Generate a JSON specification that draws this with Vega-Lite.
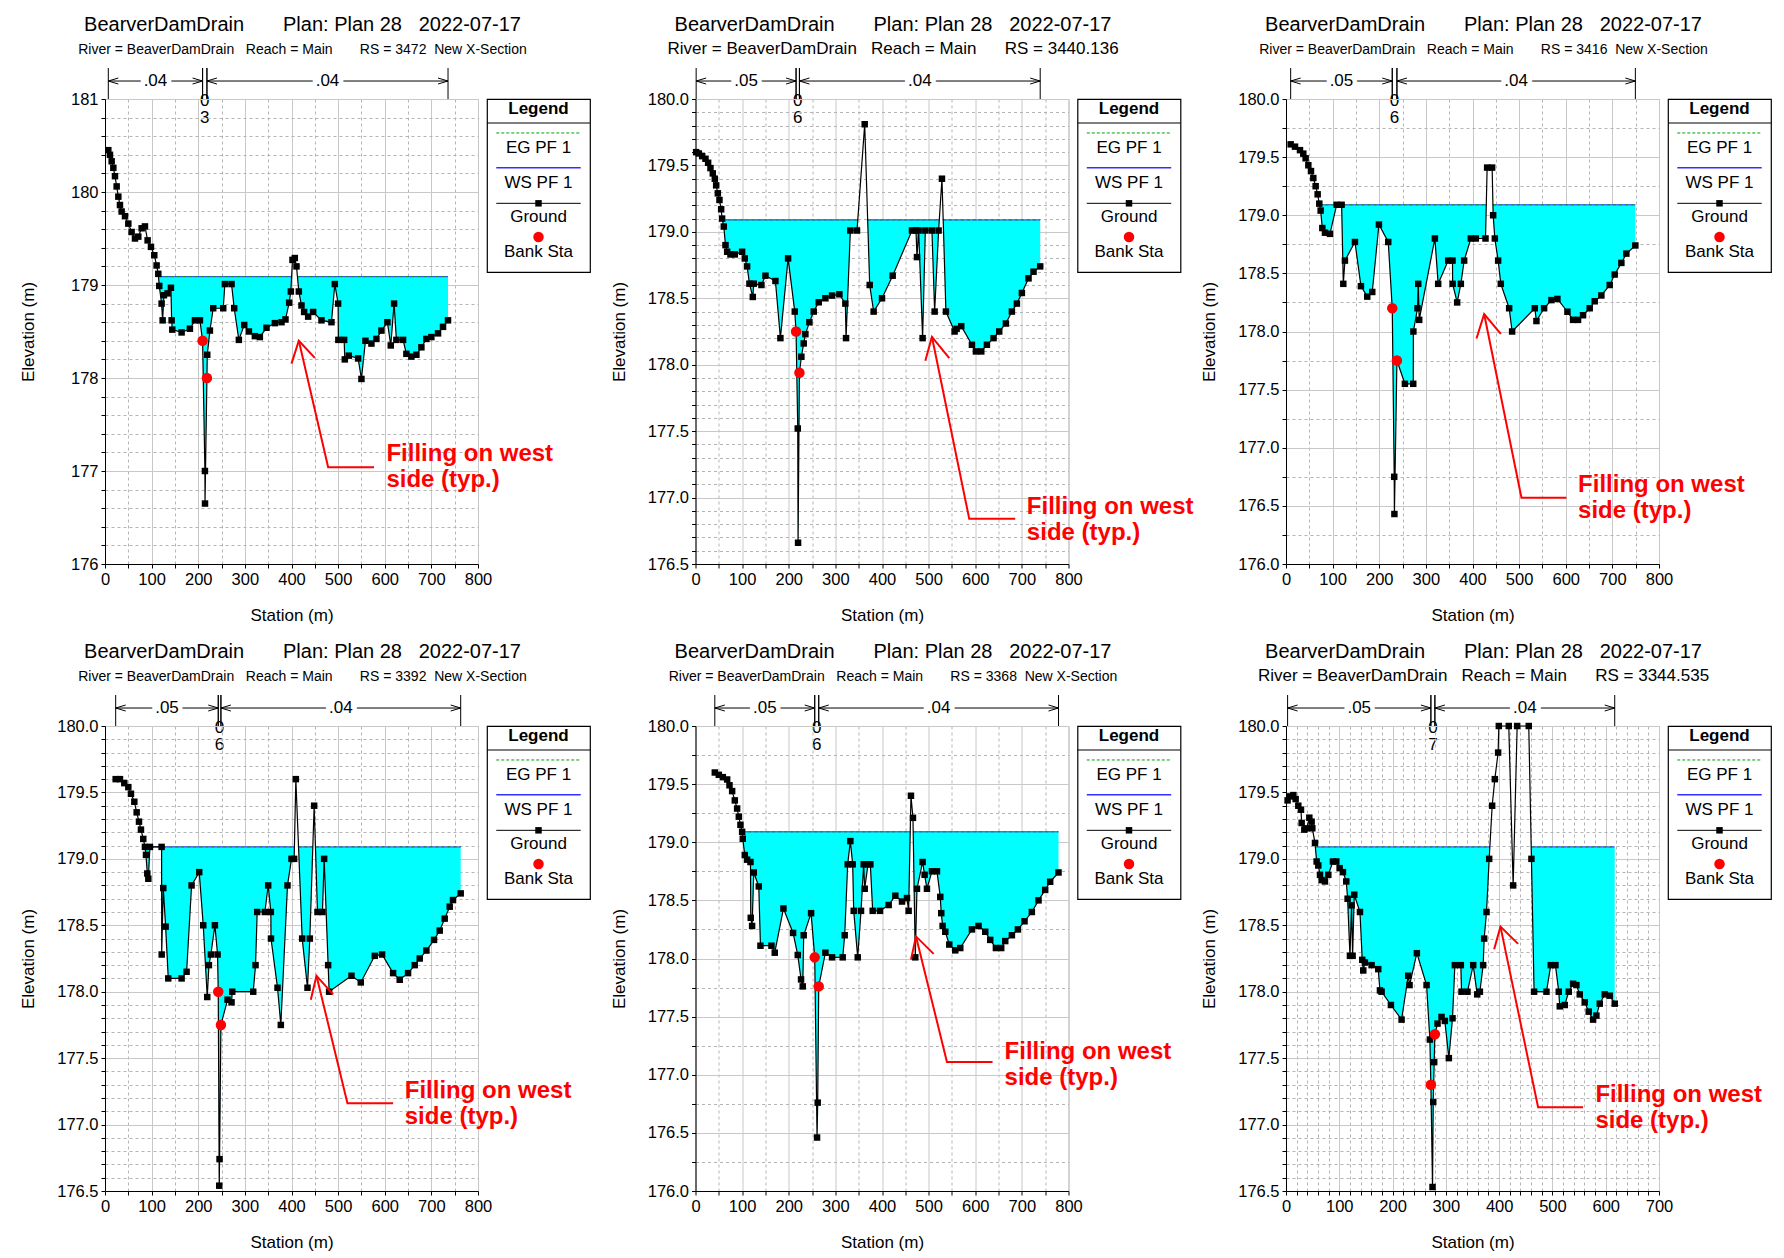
{
"$schema": "https://vega.github.io/schema/vega-lite/v6.json",
"background": "white",
"padding": {"left": 18, "top": 14, "right": 0, "bottom": 0},
"config": {
 "font": "Liberation Sans",
 "title": {"fontSize": 20, "fontWeight": "normal", "subtitleFontSize": 14, "subtitlePadding": 8, "offset": 11, "dx": 11, "frame": "group", "anchor": "middle", "color": "black", "subtitleColor": "black"},
 "axis": {"grid": true, "domainColor": "black", "tickColor": "black", "labelColor": "black", "titleColor": "black", "labelFontSize": 16.5, "titleFontSize": 17, "titleFontWeight": "normal", "tickSize": 4, "labelPadding": 3, "labelOverlap": false, "labelFlush": false, "labelBound": false, "gridWidth": 1},
 "axisX": {"titlePadding": 20},
 "axisY": {"titlePadding": 19}
},
"datasets": {
 "legend": [{"item": "EG PF 1"}, {"item": "WS PF 1"}, {"item": "Ground"}, {"item": "Bank Sta"}],
 "rough": [
  {"p":1,"k":"L","a":7.1,"z":209.3,"n":".04"},{"p":1,"k":"C","a":209.3,"z":218.6,"n":"0\n3"},{"p":1,"k":"R","a":218.6,"z":735.7,"n":".04"},
  {"p":2,"k":"L","a":1.4,"z":215.7,"n":".05"},{"p":2,"k":"C","a":215.7,"z":222.9,"n":"0\n6"},{"p":2,"k":"R","a":222.9,"z":739.3,"n":".04"},
  {"p":3,"k":"L","a":10,"z":227.9,"n":".05"},{"p":3,"k":"C","a":227.9,"z":237.9,"n":"0\n6"},{"p":3,"k":"R","a":237.9,"z":749.3,"n":".04"},
  {"p":4,"k":"L","a":22.9,"z":242.9,"n":".05"},{"p":4,"k":"C","a":242.9,"z":248.6,"n":"0\n6"},{"p":4,"k":"R","a":248.6,"z":762.9,"n":".04"},
  {"p":5,"k":"L","a":41.4,"z":255.7,"n":".05"},{"p":5,"k":"C","a":255.7,"z":264.3,"n":"0\n6"},{"p":5,"k":"R","a":264.3,"z":778.6,"n":".04"},
  {"p":6,"k":"L","a":3,"z":271.9,"n":".05"},{"p":6,"k":"C","a":271.9,"z":279.4,"n":"0\n7"},{"p":6,"k":"R","a":279.4,"z":616.9,"n":".04"}
 ],
 "ws": [
  {"p":1,"a":114.8,"z":400.2,"w":179.09},{"p":1,"a":412.7,"z":735.7,"w":179.09},
  {"p":2,"a":57.7,"z":348.1,"w":179.09},{"p":2,"a":369.3,"z":522.9,"w":179.09},{"p":2,"a":531.2,"z":739.3,"w":179.09},
  {"p":3,"a":71.9,"z":429.6,"w":179.09},{"p":3,"a":443.8,"z":749.3,"w":179.09},
  {"p":4,"a":85.7,"z":406.2,"w":179.09},{"p":4,"a":415.1,"z":445.7,"w":179.09},{"p":4,"a":451.4,"z":762.9,"w":179.09},
  {"p":5,"a":100,"z":460.5,"w":179.09},{"p":5,"a":466.9,"z":778.6,"w":179.09},
  {"p":6,"a":55.1,"z":382.6,"w":179.09},{"p":6,"a":460.2,"z":616.9,"w":179.09}
 ],
 "banks": [
  {"p":1,"s":209.3,"e":178.40},{"p":1,"s":218.6,"e":178.00},
  {"p":2,"s":215.7,"e":178.25},{"p":2,"s":222.9,"e":177.94},
  {"p":3,"s":227.9,"e":178.20},{"p":3,"s":237.9,"e":177.75},
  {"p":4,"s":242.9,"e":178.00},{"p":4,"s":248.6,"e":177.75},
  {"p":5,"s":255.7,"e":178.01},{"p":5,"s":264.3,"e":177.76},
  {"p":6,"s":271.9,"e":177.30},{"p":6,"s":279.4,"e":177.68}
 ],
 "arrow": [
  {"p":1,"g":"stem","s":577,"e":177.04},{"p":1,"g":"stem","s":478.6,"e":177.04},{"p":1,"g":"stem","s":415.7,"e":178.40},
  {"p":1,"g":"head","s":400,"e":178.155},{"p":1,"g":"head","s":415.7,"e":178.40},{"p":1,"g":"head","s":450,"e":178.216},
  {"p":2,"g":"stem","s":685.7,"e":176.84},{"p":2,"g":"stem","s":587.1,"e":176.84},{"p":2,"g":"stem","s":507.1,"e":178.21},
  {"p":2,"g":"head","s":492.9,"e":178.03},{"p":2,"g":"head","s":507.1,"e":178.21},{"p":2,"g":"head","s":544.3,"e":178.05},
  {"p":3,"g":"stem","s":601.4,"e":176.57},{"p":3,"g":"stem","s":505,"e":176.57},{"p":3,"g":"stem","s":425,"e":178.15},
  {"p":3,"g":"head","s":408.6,"e":177.94},{"p":3,"g":"head","s":425,"e":178.15},{"p":3,"g":"head","s":460.7,"e":177.98},
  {"p":4,"g":"stem","s":617.9,"e":177.16},{"p":4,"g":"stem","s":520,"e":177.16},{"p":4,"g":"stem","s":453.6,"e":178.12},
  {"p":4,"g":"head","s":441.4,"e":177.94},{"p":4,"g":"head","s":453.6,"e":178.12},{"p":4,"g":"head","s":489.3,"e":177.98},
  {"p":5,"g":"stem","s":637.1,"e":177.11},{"p":5,"g":"stem","s":539.3,"e":177.11},{"p":5,"g":"stem","s":472.9,"e":178.19},
  {"p":5,"g":"head","s":462.1,"e":177.99},{"p":5,"g":"head","s":472.9,"e":178.19},{"p":5,"g":"head","s":510.7,"e":178.04},
  {"p":6,"g":"stem","s":557.5,"e":177.13},{"p":6,"g":"stem","s":473.1,"e":177.13},{"p":6,"g":"stem","s":402.5,"e":178.49},
  {"p":6,"g":"head","s":390.6,"e":178.32},{"p":6,"g":"head","s":402.5,"e":178.49},{"p":6,"g":"head","s":435.6,"e":178.36}
 ],
 "note": [
  {"p":1,"s":603.6,"e":177.31,"t":"Filling on west\nside (typ.)"},
  {"p":2,"s":710.7,"e":177.02,"t":"Filling on west\nside (typ.)"},
  {"p":3,"s":626.4,"e":176.78,"t":"Filling on west\nside (typ.)"},
  {"p":4,"s":642.9,"e":177.34,"t":"Filling on west\nside (typ.)"},
  {"p":5,"s":662.9,"e":177.30,"t":"Filling on west\nside (typ.)"},
  {"p":6,"s":580.6,"e":177.31,"t":"Filling on west\nside (typ.)"}
 ],
 "ground": [
  {"p":1,"s":7.1,"e":180.45},{"p":1,"s":10.7,"e":180.40},{"p":1,"s":14.3,"e":180.33},{"p":1,"s":17.9,"e":180.26},{"p":1,"s":21.4,"e":180.17},{"p":1,"s":25,"e":180.06},{"p":1,"s":28.6,"e":179.95},{"p":1,"s":32.1,"e":179.86},{"p":1,"s":35.7,"e":179.79},{"p":1,"s":42.9,"e":179.74},{"p":1,"s":50,"e":179.66},{"p":1,"s":57.1,"e":179.57},{"p":1,"s":64.3,"e":179.50},{"p":1,"s":71.4,"e":179.52},{"p":1,"s":78.6,"e":179.61},{"p":1,"s":85.7,"e":179.63},{"p":1,"s":91.4,"e":179.48},{"p":1,"s":98.6,"e":179.41},{"p":1,"s":105.7,"e":179.32},{"p":1,"s":110.7,"e":179.21},{"p":1,"s":114.3,"e":179.12},{"p":1,"s":116.4,"e":178.99},{"p":1,"s":121.4,"e":178.80},{"p":1,"s":123.6,"e":178.62},{"p":1,"s":126.4,"e":178.89},{"p":1,"s":134.3,"e":178.91},{"p":1,"s":141.4,"e":178.97},{"p":1,"s":142.9,"e":178.62},{"p":1,"s":144.3,"e":178.52},{"p":1,"s":164.3,"e":178.49},{"p":1,"s":182.1,"e":178.53},{"p":1,"s":192.9,"e":178.62},{"p":1,"s":203.6,"e":178.62},{"p":1,"s":209.3,"e":178.40},{"p":1,"s":214.3,"e":177.00},{"p":1,"s":214.5,"e":176.65},{"p":1,"s":218.6,"e":178.00},{"p":1,"s":219.3,"e":178.25},{"p":1,"s":225,"e":178.51},{"p":1,"s":232.1,"e":178.75},{"p":1,"s":253.6,"e":178.75},{"p":1,"s":257.1,"e":179.01},{"p":1,"s":271.4,"e":179.01},{"p":1,"s":277.1,"e":178.75},{"p":1,"s":287.1,"e":178.41},{"p":1,"s":298.6,"e":178.57},{"p":1,"s":308.6,"e":178.50},{"p":1,"s":321.4,"e":178.45},{"p":1,"s":332.1,"e":178.44},{"p":1,"s":346.4,"e":178.54},{"p":1,"s":364.3,"e":178.59},{"p":1,"s":378.6,"e":178.60},{"p":1,"s":387.1,"e":178.63},{"p":1,"s":395,"e":178.81},{"p":1,"s":398.6,"e":178.93},{"p":1,"s":402.1,"e":179.27},{"p":1,"s":407.1,"e":179.29},{"p":1,"s":410.7,"e":179.20},{"p":1,"s":415.7,"e":178.93},{"p":1,"s":421.4,"e":178.78},{"p":1,"s":427.1,"e":178.71},{"p":1,"s":435.7,"e":178.66},{"p":1,"s":446.4,"e":178.71},{"p":1,"s":464.3,"e":178.62},{"p":1,"s":485.7,"e":178.60},{"p":1,"s":492.9,"e":179.01},{"p":1,"s":500,"e":178.80},{"p":1,"s":500.5,"e":178.41},{"p":1,"s":512.9,"e":178.41},{"p":1,"s":514.3,"e":178.20},{"p":1,"s":522.9,"e":178.24},{"p":1,"s":542.9,"e":178.21},{"p":1,"s":550,"e":177.99},{"p":1,"s":558.6,"e":178.40},{"p":1,"s":571.4,"e":178.37},{"p":1,"s":582.1,"e":178.42},{"p":1,"s":592.9,"e":178.51},{"p":1,"s":605.7,"e":178.60},{"p":1,"s":612.9,"e":178.35},{"p":1,"s":620,"e":178.80},{"p":1,"s":625,"e":178.41},{"p":1,"s":639.3,"e":178.41},{"p":1,"s":646.4,"e":178.26},{"p":1,"s":657.1,"e":178.23},{"p":1,"s":667.9,"e":178.25},{"p":1,"s":678.6,"e":178.33},{"p":1,"s":689.3,"e":178.42},{"p":1,"s":700,"e":178.44},{"p":1,"s":714.3,"e":178.48},{"p":1,"s":725,"e":178.55},{"p":1,"s":735.7,"e":178.62},
  {"p":2,"s":1.4,"e":179.60},{"p":2,"s":7.1,"e":179.59},{"p":2,"s":14.3,"e":179.57},{"p":2,"s":21.4,"e":179.55},{"p":2,"s":27.1,"e":179.52},{"p":2,"s":32.1,"e":179.48},{"p":2,"s":37.1,"e":179.44},{"p":2,"s":41.4,"e":179.40},{"p":2,"s":44.3,"e":179.35},{"p":2,"s":47.9,"e":179.29},{"p":2,"s":51.4,"e":179.24},{"p":2,"s":55,"e":179.17},{"p":2,"s":57.1,"e":179.10},{"p":2,"s":60.7,"e":179.04},{"p":2,"s":64.3,"e":178.90},{"p":2,"s":67.9,"e":178.85},{"p":2,"s":75,"e":178.83},{"p":2,"s":84.3,"e":178.83},{"p":2,"s":100,"e":178.85},{"p":2,"s":105.7,"e":178.80},{"p":2,"s":110.7,"e":178.74},{"p":2,"s":115.7,"e":178.61},{"p":2,"s":122.9,"e":178.51},{"p":2,"s":125,"e":178.61},{"p":2,"s":141.4,"e":178.60},{"p":2,"s":150,"e":178.67},{"p":2,"s":171.4,"e":178.63},{"p":2,"s":182.1,"e":178.20},{"p":2,"s":198.6,"e":178.80},{"p":2,"s":212.9,"e":178.40},{"p":2,"s":215.7,"e":178.25},{"p":2,"s":219.3,"e":177.52},{"p":2,"s":220,"e":176.66},{"p":2,"s":222.9,"e":177.94},{"p":2,"s":227.1,"e":178.06},{"p":2,"s":232.1,"e":178.16},{"p":2,"s":235.7,"e":178.23},{"p":2,"s":244.3,"e":178.32},{"p":2,"s":253.6,"e":178.40},{"p":2,"s":264.3,"e":178.47},{"p":2,"s":278.6,"e":178.50},{"p":2,"s":292.9,"e":178.52},{"p":2,"s":308.6,"e":178.53},{"p":2,"s":321.4,"e":178.46},{"p":2,"s":322.9,"e":178.20},{"p":2,"s":332.1,"e":179.01},{"p":2,"s":346.4,"e":179.01},{"p":2,"s":362.9,"e":179.81},{"p":2,"s":373.6,"e":178.60},{"p":2,"s":382.1,"e":178.40},{"p":2,"s":400,"e":178.50},{"p":2,"s":422.9,"e":178.67},{"p":2,"s":464.3,"e":179.01},{"p":2,"s":472.9,"e":179.01},{"p":2,"s":475,"e":178.81},{"p":2,"s":478.6,"e":179.01},{"p":2,"s":487.1,"e":178.20},{"p":2,"s":492.9,"e":179.01},{"p":2,"s":507.1,"e":179.01},{"p":2,"s":512.9,"e":178.40},{"p":2,"s":521.4,"e":179.01},{"p":2,"s":528.6,"e":179.40},{"p":2,"s":537.1,"e":178.40},{"p":2,"s":555.7,"e":178.25},{"p":2,"s":560,"e":178.27},{"p":2,"s":570,"e":178.29},{"p":2,"s":592.9,"e":178.15},{"p":2,"s":601.4,"e":178.10},{"p":2,"s":612.9,"e":178.10},{"p":2,"s":625,"e":178.15},{"p":2,"s":639.3,"e":178.20},{"p":2,"s":651.4,"e":178.25},{"p":2,"s":665.7,"e":178.31},{"p":2,"s":678.6,"e":178.40},{"p":2,"s":689.3,"e":178.46},{"p":2,"s":700,"e":178.54},{"p":2,"s":714.3,"e":178.65},{"p":2,"s":725,"e":178.70},{"p":2,"s":739.3,"e":178.74},
  {"p":3,"s":10,"e":179.61},{"p":3,"s":19.3,"e":179.59},{"p":3,"s":30,"e":179.56},{"p":3,"s":37.1,"e":179.53},{"p":3,"s":42.1,"e":179.49},{"p":3,"s":47.9,"e":179.43},{"p":3,"s":53.6,"e":179.38},{"p":3,"s":58.6,"e":179.32},{"p":3,"s":63.6,"e":179.25},{"p":3,"s":67.9,"e":179.18},{"p":3,"s":71.4,"e":179.10},{"p":3,"s":74.3,"e":179.04},{"p":3,"s":77.9,"e":178.89},{"p":3,"s":83.6,"e":178.85},{"p":3,"s":94.3,"e":178.84},{"p":3,"s":108.6,"e":179.09},{"p":3,"s":119.3,"e":179.09},{"p":3,"s":122.9,"e":178.41},{"p":3,"s":126.4,"e":178.61},{"p":3,"s":147.9,"e":178.77},{"p":3,"s":160.7,"e":178.39},{"p":3,"s":174.3,"e":178.30},{"p":3,"s":185,"e":178.34},{"p":3,"s":199.3,"e":178.92},{"p":3,"s":219.3,"e":178.77},{"p":3,"s":227.9,"e":178.20},{"p":3,"s":232.1,"e":176.75},{"p":3,"s":232.5,"e":176.43},{"p":3,"s":237.9,"e":177.75},{"p":3,"s":255,"e":177.55},{"p":3,"s":272.9,"e":177.55},{"p":3,"s":273.2,"e":178.00},{"p":3,"s":282.1,"e":178.20},{"p":3,"s":283.6,"e":178.41},{"p":3,"s":285.7,"e":178.10},{"p":3,"s":319.3,"e":178.80},{"p":3,"s":326.4,"e":178.41},{"p":3,"s":347.9,"e":178.61},{"p":3,"s":357.1,"e":178.61},{"p":3,"s":357.4,"e":178.41},{"p":3,"s":367.1,"e":178.25},{"p":3,"s":375,"e":178.41},{"p":3,"s":382.1,"e":178.61},{"p":3,"s":396.4,"e":178.80},{"p":3,"s":407.1,"e":178.80},{"p":3,"s":427.9,"e":178.80},{"p":3,"s":431.4,"e":179.41},{"p":3,"s":442.1,"e":179.41},{"p":3,"s":444.3,"e":179.00},{"p":3,"s":447.9,"e":178.80},{"p":3,"s":455,"e":178.61},{"p":3,"s":460.7,"e":178.41},{"p":3,"s":478.6,"e":178.20},{"p":3,"s":485,"e":178.00},{"p":3,"s":533.6,"e":178.20},{"p":3,"s":537.1,"e":178.09},{"p":3,"s":553.6,"e":178.20},{"p":3,"s":569.3,"e":178.27},{"p":3,"s":582.1,"e":178.28},{"p":3,"s":603.6,"e":178.17},{"p":3,"s":615.7,"e":178.10},{"p":3,"s":626.4,"e":178.10},{"p":3,"s":637.1,"e":178.14},{"p":3,"s":651.4,"e":178.20},{"p":3,"s":662.1,"e":178.26},{"p":3,"s":676.4,"e":178.31},{"p":3,"s":694.3,"e":178.40},{"p":3,"s":705,"e":178.49},{"p":3,"s":719.3,"e":178.59},{"p":3,"s":730,"e":178.67},{"p":3,"s":749.3,"e":178.74},
  {"p":4,"s":22.9,"e":179.60},{"p":4,"s":32.1,"e":179.60},{"p":4,"s":41.4,"e":179.57},{"p":4,"s":50,"e":179.54},{"p":4,"s":55.7,"e":179.49},{"p":4,"s":62.9,"e":179.43},{"p":4,"s":67.9,"e":179.35},{"p":4,"s":72.9,"e":179.28},{"p":4,"s":77.1,"e":179.22},{"p":4,"s":82.1,"e":179.15},{"p":4,"s":85.7,"e":179.09},{"p":4,"s":87.9,"e":179.03},{"p":4,"s":90.7,"e":178.89},{"p":4,"s":92.9,"e":178.85},{"p":4,"s":96.4,"e":179.09},{"p":4,"s":121.4,"e":179.09},{"p":4,"s":121.6,"e":178.28},{"p":4,"s":125,"e":178.78},{"p":4,"s":130,"e":178.49},{"p":4,"s":135.7,"e":178.10},{"p":4,"s":164.3,"e":178.10},{"p":4,"s":175,"e":178.15},{"p":4,"s":185.7,"e":178.80},{"p":4,"s":202.1,"e":178.90},{"p":4,"s":210.7,"e":178.50},{"p":4,"s":219.3,"e":177.96},{"p":4,"s":222.9,"e":178.20},{"p":4,"s":227.1,"e":178.28},{"p":4,"s":235.7,"e":178.50},{"p":4,"s":241.4,"e":178.28},{"p":4,"s":242.9,"e":178.00},{"p":4,"s":245,"e":176.54},{"p":4,"s":245.7,"e":176.74},{"p":4,"s":248.6,"e":177.75},{"p":4,"s":262.9,"e":177.94},{"p":4,"s":271.4,"e":177.92},{"p":4,"s":272.9,"e":178.00},{"p":4,"s":317.9,"e":178.00},{"p":4,"s":322.9,"e":178.20},{"p":4,"s":326.4,"e":178.60},{"p":4,"s":342.9,"e":178.60},{"p":4,"s":350,"e":178.80},{"p":4,"s":355.7,"e":178.60},{"p":4,"s":356,"e":178.40},{"p":4,"s":370,"e":178.03},{"p":4,"s":377.1,"e":177.75},{"p":4,"s":391.4,"e":178.80},{"p":4,"s":400,"e":179.00},{"p":4,"s":405.7,"e":179.00},{"p":4,"s":409.3,"e":179.60},{"p":4,"s":422.9,"e":178.40},{"p":4,"s":434.3,"e":178.03},{"p":4,"s":439.3,"e":178.40},{"p":4,"s":448.6,"e":179.40},{"p":4,"s":455.7,"e":178.60},{"p":4,"s":466.4,"e":178.60},{"p":4,"s":470,"e":179.00},{"p":4,"s":478.6,"e":178.20},{"p":4,"s":480.7,"e":178.00},{"p":4,"s":528.6,"e":178.12},{"p":4,"s":548.6,"e":178.07},{"p":4,"s":578.6,"e":178.27},{"p":4,"s":594.3,"e":178.28},{"p":4,"s":617.9,"e":178.14},{"p":4,"s":632.1,"e":178.09},{"p":4,"s":650,"e":178.14},{"p":4,"s":664.3,"e":178.20},{"p":4,"s":675,"e":178.25},{"p":4,"s":689.3,"e":178.31},{"p":4,"s":705.7,"e":178.39},{"p":4,"s":717.9,"e":178.46},{"p":4,"s":728.6,"e":178.55},{"p":4,"s":739.3,"e":178.64},{"p":4,"s":746.4,"e":178.69},{"p":4,"s":762.9,"e":178.74},
  {"p":5,"s":41.4,"e":179.60},{"p":5,"s":50,"e":179.58},{"p":5,"s":58.6,"e":179.56},{"p":5,"s":67.9,"e":179.54},{"p":5,"s":72.9,"e":179.49},{"p":5,"s":78.6,"e":179.44},{"p":5,"s":84.3,"e":179.36},{"p":5,"s":89.3,"e":179.29},{"p":5,"s":92.9,"e":179.22},{"p":5,"s":96.4,"e":179.15},{"p":5,"s":100,"e":179.09},{"p":5,"s":101.4,"e":179.03},{"p":5,"s":105.7,"e":178.89},{"p":5,"s":110.7,"e":178.85},{"p":5,"s":117.9,"e":178.83},{"p":5,"s":118.5,"e":178.35},{"p":5,"s":121.4,"e":178.28},{"p":5,"s":125,"e":178.74},{"p":5,"s":135.7,"e":178.62},{"p":5,"s":139.3,"e":178.11},{"p":5,"s":162.9,"e":178.11},{"p":5,"s":170,"e":178.05},{"p":5,"s":188.6,"e":178.43},{"p":5,"s":209.3,"e":178.22},{"p":5,"s":219.3,"e":178.03},{"p":5,"s":226.4,"e":177.82},{"p":5,"s":230,"e":177.76},{"p":5,"s":232.1,"e":178.20},{"p":5,"s":247.9,"e":178.39},{"p":5,"s":255.7,"e":178.01},{"p":5,"s":260.7,"e":176.46},{"p":5,"s":262.1,"e":176.76},{"p":5,"s":264.3,"e":177.76},{"p":5,"s":278.6,"e":178.05},{"p":5,"s":292.9,"e":178.01},{"p":5,"s":315.7,"e":178.01},{"p":5,"s":320,"e":178.20},{"p":5,"s":326.4,"e":178.81},{"p":5,"s":332.1,"e":179.01},{"p":5,"s":337.1,"e":178.81},{"p":5,"s":339.3,"e":178.41},{"p":5,"s":347.9,"e":178.01},{"p":5,"s":355,"e":178.41},{"p":5,"s":360.7,"e":178.81},{"p":5,"s":362.9,"e":178.60},{"p":5,"s":370,"e":178.81},{"p":5,"s":375,"e":178.81},{"p":5,"s":380,"e":178.41},{"p":5,"s":395.7,"e":178.41},{"p":5,"s":414.3,"e":178.46},{"p":5,"s":428.6,"e":178.54},{"p":5,"s":442.9,"e":178.49},{"p":5,"s":453.6,"e":178.52},{"p":5,"s":457.1,"e":178.41},{"p":5,"s":462.1,"e":179.40},{"p":5,"s":466.4,"e":179.21},{"p":5,"s":471.4,"e":178.01},{"p":5,"s":475,"e":178.60},{"p":5,"s":487.1,"e":178.83},{"p":5,"s":491.4,"e":178.72},{"p":5,"s":496.4,"e":178.60},{"p":5,"s":507.1,"e":178.75},{"p":5,"s":517.9,"e":178.75},{"p":5,"s":525,"e":178.53},{"p":5,"s":527.1,"e":178.39},{"p":5,"s":530,"e":178.28},{"p":5,"s":535.7,"e":178.23},{"p":5,"s":544.3,"e":178.12},{"p":5,"s":557.1,"e":178.07},{"p":5,"s":567.9,"e":178.09},{"p":5,"s":592.9,"e":178.25},{"p":5,"s":607.1,"e":178.28},{"p":5,"s":621.4,"e":178.23},{"p":5,"s":632.1,"e":178.16},{"p":5,"s":644.3,"e":178.09},{"p":5,"s":655.7,"e":178.09},{"p":5,"s":664.3,"e":178.15},{"p":5,"s":678.6,"e":178.20},{"p":5,"s":691.4,"e":178.25},{"p":5,"s":705.7,"e":178.32},{"p":5,"s":721.4,"e":178.40},{"p":5,"s":735.7,"e":178.50},{"p":5,"s":750,"e":178.59},{"p":5,"s":760.7,"e":178.66},{"p":5,"s":778.6,"e":178.74},
  {"p":6,"s":3,"e":179.44},{"p":6,"s":7.5,"e":179.47},{"p":6,"s":13.8,"e":179.48},{"p":6,"s":18.1,"e":179.45},{"p":6,"s":23.1,"e":179.40},{"p":6,"s":28.1,"e":179.37},{"p":6,"s":29.4,"e":179.27},{"p":6,"s":34.4,"e":179.22},{"p":6,"s":38.8,"e":179.23},{"p":6,"s":43.8,"e":179.31},{"p":6,"s":48.1,"e":179.28},{"p":6,"s":49.4,"e":179.23},{"p":6,"s":54.4,"e":179.12},{"p":6,"s":57.5,"e":178.98},{"p":6,"s":60.6,"e":178.95},{"p":6,"s":63.8,"e":178.88},{"p":6,"s":66.9,"e":178.84},{"p":6,"s":73.1,"e":178.83},{"p":6,"s":79.4,"e":178.88},{"p":6,"s":88.1,"e":178.98},{"p":6,"s":94.4,"e":178.98},{"p":6,"s":100.6,"e":178.93},{"p":6,"s":106.9,"e":178.90},{"p":6,"s":113.1,"e":178.83},{"p":6,"s":115.6,"e":178.70},{"p":6,"s":120,"e":178.27},{"p":6,"s":123.1,"e":178.65},{"p":6,"s":125,"e":178.27},{"p":6,"s":128.1,"e":178.73},{"p":6,"s":138.8,"e":178.60},{"p":6,"s":143.1,"e":178.24},{"p":6,"s":145,"e":178.16},{"p":6,"s":148.1,"e":178.22},{"p":6,"s":160.6,"e":178.20},{"p":6,"s":173.1,"e":178.17},{"p":6,"s":176.3,"e":178.01},{"p":6,"s":179.4,"e":178.00},{"p":6,"s":196.9,"e":177.90},{"p":6,"s":216.9,"e":177.79},{"p":6,"s":229.4,"e":178.12},{"p":6,"s":231.9,"e":178.05},{"p":6,"s":245.6,"e":178.29},{"p":6,"s":263.8,"e":178.05},{"p":6,"s":270,"e":177.64},{"p":6,"s":271.9,"e":177.30},{"p":6,"s":275,"e":176.53},{"p":6,"s":276.3,"e":177.17},{"p":6,"s":278.1,"e":177.47},{"p":6,"s":279.4,"e":177.68},{"p":6,"s":284.4,"e":177.76},{"p":6,"s":291.9,"e":177.81},{"p":6,"s":298.1,"e":177.78},{"p":6,"s":305.6,"e":177.50},{"p":6,"s":312.5,"e":177.80},{"p":6,"s":316.9,"e":178.20},{"p":6,"s":328.1,"e":178.20},{"p":6,"s":329.4,"e":178.00},{"p":6,"s":340.6,"e":178.00},{"p":6,"s":351.3,"e":178.20},{"p":6,"s":358.8,"e":177.98},{"p":6,"s":363.8,"e":178.00},{"p":6,"s":370,"e":178.20},{"p":6,"s":371.9,"e":178.40},{"p":6,"s":376.3,"e":178.60},{"p":6,"s":381.3,"e":179.00},{"p":6,"s":386.9,"e":179.40},{"p":6,"s":391.9,"e":179.60},{"p":6,"s":398.1,"e":179.80},{"p":6,"s":399.4,"e":180.00},{"p":6,"s":418.1,"e":180.00},{"p":6,"s":426.3,"e":178.80},{"p":6,"s":433.8,"e":180.00},{"p":6,"s":455.6,"e":180.00},{"p":6,"s":460.6,"e":179.00},{"p":6,"s":465.6,"e":178.00},{"p":6,"s":488.8,"e":178.00},{"p":6,"s":496.9,"e":178.20},{"p":6,"s":505.6,"e":178.20},{"p":6,"s":511.9,"e":178.00},{"p":6,"s":513.8,"e":177.89},{"p":6,"s":523.1,"e":177.90},{"p":6,"s":530.6,"e":178.00},{"p":6,"s":538.8,"e":178.06},{"p":6,"s":545,"e":178.05},{"p":6,"s":551.3,"e":177.98},{"p":6,"s":560.6,"e":177.92},{"p":6,"s":568.1,"e":177.85},{"p":6,"s":576.3,"e":177.79},{"p":6,"s":582.5,"e":177.82},{"p":6,"s":588.8,"e":177.91},{"p":6,"s":598.1,"e":177.98},{"p":6,"s":607.5,"e":177.97},{"p":6,"s":616.9,"e":177.91}
 ],
 "water": [
  {"p":1,"s":114.8,"e":179.09,"w":179.09},{"p":1,"s":116.4,"e":178.99,"w":179.09},{"p":1,"s":121.4,"e":178.80,"w":179.09},{"p":1,"s":123.6,"e":178.62,"w":179.09},{"p":1,"s":126.4,"e":178.89,"w":179.09},{"p":1,"s":134.3,"e":178.91,"w":179.09},{"p":1,"s":141.4,"e":178.97,"w":179.09},{"p":1,"s":142.9,"e":178.62,"w":179.09},{"p":1,"s":144.3,"e":178.52,"w":179.09},{"p":1,"s":164.3,"e":178.49,"w":179.09},{"p":1,"s":182.1,"e":178.53,"w":179.09},{"p":1,"s":192.9,"e":178.62,"w":179.09},{"p":1,"s":203.6,"e":178.62,"w":179.09},{"p":1,"s":209.3,"e":178.40,"w":179.09},{"p":1,"s":214.3,"e":177.00,"w":179.09},{"p":1,"s":214.5,"e":176.65,"w":179.09},{"p":1,"s":218.6,"e":178.00,"w":179.09},{"p":1,"s":219.3,"e":178.25,"w":179.09},{"p":1,"s":225,"e":178.51,"w":179.09},{"p":1,"s":232.1,"e":178.75,"w":179.09},{"p":1,"s":253.6,"e":178.75,"w":179.09},{"p":1,"s":257.1,"e":179.01,"w":179.09},{"p":1,"s":271.4,"e":179.01,"w":179.09},{"p":1,"s":277.1,"e":178.75,"w":179.09},{"p":1,"s":287.1,"e":178.41,"w":179.09},{"p":1,"s":298.6,"e":178.57,"w":179.09},{"p":1,"s":308.6,"e":178.50,"w":179.09},{"p":1,"s":321.4,"e":178.45,"w":179.09},{"p":1,"s":332.1,"e":178.44,"w":179.09},{"p":1,"s":346.4,"e":178.54,"w":179.09},{"p":1,"s":364.3,"e":178.59,"w":179.09},{"p":1,"s":378.6,"e":178.60,"w":179.09},{"p":1,"s":387.1,"e":178.63,"w":179.09},{"p":1,"s":395,"e":178.81,"w":179.09},{"p":1,"s":398.6,"e":178.93,"w":179.09},{"p":1,"s":400.2,"e":179.09,"w":179.09},{"p":1,"s":412.7,"e":179.09,"w":179.09},{"p":1,"s":415.7,"e":178.93,"w":179.09},{"p":1,"s":421.4,"e":178.78,"w":179.09},{"p":1,"s":427.1,"e":178.71,"w":179.09},{"p":1,"s":435.7,"e":178.66,"w":179.09},{"p":1,"s":446.4,"e":178.71,"w":179.09},{"p":1,"s":464.3,"e":178.62,"w":179.09},{"p":1,"s":485.7,"e":178.60,"w":179.09},{"p":1,"s":492.9,"e":179.01,"w":179.09},{"p":1,"s":500,"e":178.80,"w":179.09},{"p":1,"s":500.5,"e":178.41,"w":179.09},{"p":1,"s":512.9,"e":178.41,"w":179.09},{"p":1,"s":514.3,"e":178.20,"w":179.09},{"p":1,"s":522.9,"e":178.24,"w":179.09},{"p":1,"s":542.9,"e":178.21,"w":179.09},{"p":1,"s":550,"e":177.99,"w":179.09},{"p":1,"s":558.6,"e":178.40,"w":179.09},{"p":1,"s":571.4,"e":178.37,"w":179.09},{"p":1,"s":582.1,"e":178.42,"w":179.09},{"p":1,"s":592.9,"e":178.51,"w":179.09},{"p":1,"s":605.7,"e":178.60,"w":179.09},{"p":1,"s":612.9,"e":178.35,"w":179.09},{"p":1,"s":620,"e":178.80,"w":179.09},{"p":1,"s":625,"e":178.41,"w":179.09},{"p":1,"s":639.3,"e":178.41,"w":179.09},{"p":1,"s":646.4,"e":178.26,"w":179.09},{"p":1,"s":657.1,"e":178.23,"w":179.09},{"p":1,"s":667.9,"e":178.25,"w":179.09},{"p":1,"s":678.6,"e":178.33,"w":179.09},{"p":1,"s":689.3,"e":178.42,"w":179.09},{"p":1,"s":700,"e":178.44,"w":179.09},{"p":1,"s":714.3,"e":178.48,"w":179.09},{"p":1,"s":725,"e":178.55,"w":179.09},{"p":1,"s":735.7,"e":178.62,"w":179.09},
  {"p":2,"s":57.7,"e":179.09,"w":179.09},{"p":2,"s":60.7,"e":179.04,"w":179.09},{"p":2,"s":64.3,"e":178.90,"w":179.09},{"p":2,"s":67.9,"e":178.85,"w":179.09},{"p":2,"s":75,"e":178.83,"w":179.09},{"p":2,"s":84.3,"e":178.83,"w":179.09},{"p":2,"s":100,"e":178.85,"w":179.09},{"p":2,"s":105.7,"e":178.80,"w":179.09},{"p":2,"s":110.7,"e":178.74,"w":179.09},{"p":2,"s":115.7,"e":178.61,"w":179.09},{"p":2,"s":122.9,"e":178.51,"w":179.09},{"p":2,"s":125,"e":178.61,"w":179.09},{"p":2,"s":141.4,"e":178.60,"w":179.09},{"p":2,"s":150,"e":178.67,"w":179.09},{"p":2,"s":171.4,"e":178.63,"w":179.09},{"p":2,"s":182.1,"e":178.20,"w":179.09},{"p":2,"s":198.6,"e":178.80,"w":179.09},{"p":2,"s":212.9,"e":178.40,"w":179.09},{"p":2,"s":215.7,"e":178.25,"w":179.09},{"p":2,"s":219.3,"e":177.52,"w":179.09},{"p":2,"s":220,"e":176.66,"w":179.09},{"p":2,"s":222.9,"e":177.94,"w":179.09},{"p":2,"s":227.1,"e":178.06,"w":179.09},{"p":2,"s":232.1,"e":178.16,"w":179.09},{"p":2,"s":235.7,"e":178.23,"w":179.09},{"p":2,"s":244.3,"e":178.32,"w":179.09},{"p":2,"s":253.6,"e":178.40,"w":179.09},{"p":2,"s":264.3,"e":178.47,"w":179.09},{"p":2,"s":278.6,"e":178.50,"w":179.09},{"p":2,"s":292.9,"e":178.52,"w":179.09},{"p":2,"s":308.6,"e":178.53,"w":179.09},{"p":2,"s":321.4,"e":178.46,"w":179.09},{"p":2,"s":322.9,"e":178.20,"w":179.09},{"p":2,"s":332.1,"e":179.01,"w":179.09},{"p":2,"s":346.4,"e":179.01,"w":179.09},{"p":2,"s":348.1,"e":179.09,"w":179.09},{"p":2,"s":369.3,"e":179.09,"w":179.09},{"p":2,"s":373.6,"e":178.60,"w":179.09},{"p":2,"s":382.1,"e":178.40,"w":179.09},{"p":2,"s":400,"e":178.50,"w":179.09},{"p":2,"s":422.9,"e":178.67,"w":179.09},{"p":2,"s":464.3,"e":179.01,"w":179.09},{"p":2,"s":472.9,"e":179.01,"w":179.09},{"p":2,"s":475,"e":178.81,"w":179.09},{"p":2,"s":478.6,"e":179.01,"w":179.09},{"p":2,"s":487.1,"e":178.20,"w":179.09},{"p":2,"s":492.9,"e":179.01,"w":179.09},{"p":2,"s":507.1,"e":179.01,"w":179.09},{"p":2,"s":512.9,"e":178.40,"w":179.09},{"p":2,"s":521.4,"e":179.01,"w":179.09},{"p":2,"s":522.9,"e":179.09,"w":179.09},{"p":2,"s":531.2,"e":179.09,"w":179.09},{"p":2,"s":537.1,"e":178.40,"w":179.09},{"p":2,"s":555.7,"e":178.25,"w":179.09},{"p":2,"s":560,"e":178.27,"w":179.09},{"p":2,"s":570,"e":178.29,"w":179.09},{"p":2,"s":592.9,"e":178.15,"w":179.09},{"p":2,"s":601.4,"e":178.10,"w":179.09},{"p":2,"s":612.9,"e":178.10,"w":179.09},{"p":2,"s":625,"e":178.15,"w":179.09},{"p":2,"s":639.3,"e":178.20,"w":179.09},{"p":2,"s":651.4,"e":178.25,"w":179.09},{"p":2,"s":665.7,"e":178.31,"w":179.09},{"p":2,"s":678.6,"e":178.40,"w":179.09},{"p":2,"s":689.3,"e":178.46,"w":179.09},{"p":2,"s":700,"e":178.54,"w":179.09},{"p":2,"s":714.3,"e":178.65,"w":179.09},{"p":2,"s":725,"e":178.70,"w":179.09},{"p":2,"s":739.3,"e":178.74,"w":179.09},
  {"p":3,"s":71.9,"e":179.09,"w":179.09},{"p":3,"s":74.3,"e":179.04,"w":179.09},{"p":3,"s":77.9,"e":178.89,"w":179.09},{"p":3,"s":83.6,"e":178.85,"w":179.09},{"p":3,"s":94.3,"e":178.84,"w":179.09},{"p":3,"s":108.6,"e":179.09,"w":179.09},{"p":3,"s":119.3,"e":179.09,"w":179.09},{"p":3,"s":122.9,"e":178.41,"w":179.09},{"p":3,"s":126.4,"e":178.61,"w":179.09},{"p":3,"s":147.9,"e":178.77,"w":179.09},{"p":3,"s":160.7,"e":178.39,"w":179.09},{"p":3,"s":174.3,"e":178.30,"w":179.09},{"p":3,"s":185,"e":178.34,"w":179.09},{"p":3,"s":199.3,"e":178.92,"w":179.09},{"p":3,"s":219.3,"e":178.77,"w":179.09},{"p":3,"s":227.9,"e":178.20,"w":179.09},{"p":3,"s":232.1,"e":176.75,"w":179.09},{"p":3,"s":232.5,"e":176.43,"w":179.09},{"p":3,"s":237.9,"e":177.75,"w":179.09},{"p":3,"s":255,"e":177.55,"w":179.09},{"p":3,"s":272.9,"e":177.55,"w":179.09},{"p":3,"s":273.2,"e":178.00,"w":179.09},{"p":3,"s":282.1,"e":178.20,"w":179.09},{"p":3,"s":283.6,"e":178.41,"w":179.09},{"p":3,"s":285.7,"e":178.10,"w":179.09},{"p":3,"s":319.3,"e":178.80,"w":179.09},{"p":3,"s":326.4,"e":178.41,"w":179.09},{"p":3,"s":347.9,"e":178.61,"w":179.09},{"p":3,"s":357.1,"e":178.61,"w":179.09},{"p":3,"s":357.4,"e":178.41,"w":179.09},{"p":3,"s":367.1,"e":178.25,"w":179.09},{"p":3,"s":375,"e":178.41,"w":179.09},{"p":3,"s":382.1,"e":178.61,"w":179.09},{"p":3,"s":396.4,"e":178.80,"w":179.09},{"p":3,"s":407.1,"e":178.80,"w":179.09},{"p":3,"s":427.9,"e":178.80,"w":179.09},{"p":3,"s":429.6,"e":179.09,"w":179.09},{"p":3,"s":443.8,"e":179.09,"w":179.09},{"p":3,"s":444.3,"e":179.00,"w":179.09},{"p":3,"s":447.9,"e":178.80,"w":179.09},{"p":3,"s":455,"e":178.61,"w":179.09},{"p":3,"s":460.7,"e":178.41,"w":179.09},{"p":3,"s":478.6,"e":178.20,"w":179.09},{"p":3,"s":485,"e":178.00,"w":179.09},{"p":3,"s":533.6,"e":178.20,"w":179.09},{"p":3,"s":537.1,"e":178.09,"w":179.09},{"p":3,"s":553.6,"e":178.20,"w":179.09},{"p":3,"s":569.3,"e":178.27,"w":179.09},{"p":3,"s":582.1,"e":178.28,"w":179.09},{"p":3,"s":603.6,"e":178.17,"w":179.09},{"p":3,"s":615.7,"e":178.10,"w":179.09},{"p":3,"s":626.4,"e":178.10,"w":179.09},{"p":3,"s":637.1,"e":178.14,"w":179.09},{"p":3,"s":651.4,"e":178.20,"w":179.09},{"p":3,"s":662.1,"e":178.26,"w":179.09},{"p":3,"s":676.4,"e":178.31,"w":179.09},{"p":3,"s":694.3,"e":178.40,"w":179.09},{"p":3,"s":705,"e":178.49,"w":179.09},{"p":3,"s":719.3,"e":178.59,"w":179.09},{"p":3,"s":730,"e":178.67,"w":179.09},{"p":3,"s":749.3,"e":178.74,"w":179.09},
  {"p":4,"s":85.7,"e":179.09,"w":179.09},{"p":4,"s":87.9,"e":179.03,"w":179.09},{"p":4,"s":90.7,"e":178.89,"w":179.09},{"p":4,"s":92.9,"e":178.85,"w":179.09},{"p":4,"s":96.4,"e":179.09,"w":179.09},{"p":4,"s":121.4,"e":179.09,"w":179.09},{"p":4,"s":121.6,"e":178.28,"w":179.09},{"p":4,"s":125,"e":178.78,"w":179.09},{"p":4,"s":130,"e":178.49,"w":179.09},{"p":4,"s":135.7,"e":178.10,"w":179.09},{"p":4,"s":164.3,"e":178.10,"w":179.09},{"p":4,"s":175,"e":178.15,"w":179.09},{"p":4,"s":185.7,"e":178.80,"w":179.09},{"p":4,"s":202.1,"e":178.90,"w":179.09},{"p":4,"s":210.7,"e":178.50,"w":179.09},{"p":4,"s":219.3,"e":177.96,"w":179.09},{"p":4,"s":222.9,"e":178.20,"w":179.09},{"p":4,"s":227.1,"e":178.28,"w":179.09},{"p":4,"s":235.7,"e":178.50,"w":179.09},{"p":4,"s":241.4,"e":178.28,"w":179.09},{"p":4,"s":242.9,"e":178.00,"w":179.09},{"p":4,"s":245,"e":176.54,"w":179.09},{"p":4,"s":245.7,"e":176.74,"w":179.09},{"p":4,"s":248.6,"e":177.75,"w":179.09},{"p":4,"s":262.9,"e":177.94,"w":179.09},{"p":4,"s":271.4,"e":177.92,"w":179.09},{"p":4,"s":272.9,"e":178.00,"w":179.09},{"p":4,"s":317.9,"e":178.00,"w":179.09},{"p":4,"s":322.9,"e":178.20,"w":179.09},{"p":4,"s":326.4,"e":178.60,"w":179.09},{"p":4,"s":342.9,"e":178.60,"w":179.09},{"p":4,"s":350,"e":178.80,"w":179.09},{"p":4,"s":355.7,"e":178.60,"w":179.09},{"p":4,"s":356,"e":178.40,"w":179.09},{"p":4,"s":370,"e":178.03,"w":179.09},{"p":4,"s":377.1,"e":177.75,"w":179.09},{"p":4,"s":391.4,"e":178.80,"w":179.09},{"p":4,"s":400,"e":179.00,"w":179.09},{"p":4,"s":405.7,"e":179.00,"w":179.09},{"p":4,"s":406.2,"e":179.09,"w":179.09},{"p":4,"s":415.1,"e":179.09,"w":179.09},{"p":4,"s":422.9,"e":178.40,"w":179.09},{"p":4,"s":434.3,"e":178.03,"w":179.09},{"p":4,"s":439.3,"e":178.40,"w":179.09},{"p":4,"s":445.7,"e":179.09,"w":179.09},{"p":4,"s":451.4,"e":179.09,"w":179.09},{"p":4,"s":455.7,"e":178.60,"w":179.09},{"p":4,"s":466.4,"e":178.60,"w":179.09},{"p":4,"s":470,"e":179.00,"w":179.09},{"p":4,"s":478.6,"e":178.20,"w":179.09},{"p":4,"s":480.7,"e":178.00,"w":179.09},{"p":4,"s":528.6,"e":178.12,"w":179.09},{"p":4,"s":548.6,"e":178.07,"w":179.09},{"p":4,"s":578.6,"e":178.27,"w":179.09},{"p":4,"s":594.3,"e":178.28,"w":179.09},{"p":4,"s":617.9,"e":178.14,"w":179.09},{"p":4,"s":632.1,"e":178.09,"w":179.09},{"p":4,"s":650,"e":178.14,"w":179.09},{"p":4,"s":664.3,"e":178.20,"w":179.09},{"p":4,"s":675,"e":178.25,"w":179.09},{"p":4,"s":689.3,"e":178.31,"w":179.09},{"p":4,"s":705.7,"e":178.39,"w":179.09},{"p":4,"s":717.9,"e":178.46,"w":179.09},{"p":4,"s":728.6,"e":178.55,"w":179.09},{"p":4,"s":739.3,"e":178.64,"w":179.09},{"p":4,"s":746.4,"e":178.69,"w":179.09},{"p":4,"s":762.9,"e":178.74,"w":179.09},
  {"p":5,"s":100,"e":179.09,"w":179.09},{"p":5,"s":101.4,"e":179.03,"w":179.09},{"p":5,"s":105.7,"e":178.89,"w":179.09},{"p":5,"s":110.7,"e":178.85,"w":179.09},{"p":5,"s":117.9,"e":178.83,"w":179.09},{"p":5,"s":118.5,"e":178.35,"w":179.09},{"p":5,"s":121.4,"e":178.28,"w":179.09},{"p":5,"s":125,"e":178.74,"w":179.09},{"p":5,"s":135.7,"e":178.62,"w":179.09},{"p":5,"s":139.3,"e":178.11,"w":179.09},{"p":5,"s":162.9,"e":178.11,"w":179.09},{"p":5,"s":170,"e":178.05,"w":179.09},{"p":5,"s":188.6,"e":178.43,"w":179.09},{"p":5,"s":209.3,"e":178.22,"w":179.09},{"p":5,"s":219.3,"e":178.03,"w":179.09},{"p":5,"s":226.4,"e":177.82,"w":179.09},{"p":5,"s":230,"e":177.76,"w":179.09},{"p":5,"s":232.1,"e":178.20,"w":179.09},{"p":5,"s":247.9,"e":178.39,"w":179.09},{"p":5,"s":255.7,"e":178.01,"w":179.09},{"p":5,"s":260.7,"e":176.46,"w":179.09},{"p":5,"s":262.1,"e":176.76,"w":179.09},{"p":5,"s":264.3,"e":177.76,"w":179.09},{"p":5,"s":278.6,"e":178.05,"w":179.09},{"p":5,"s":292.9,"e":178.01,"w":179.09},{"p":5,"s":315.7,"e":178.01,"w":179.09},{"p":5,"s":320,"e":178.20,"w":179.09},{"p":5,"s":326.4,"e":178.81,"w":179.09},{"p":5,"s":332.1,"e":179.01,"w":179.09},{"p":5,"s":337.1,"e":178.81,"w":179.09},{"p":5,"s":339.3,"e":178.41,"w":179.09},{"p":5,"s":347.9,"e":178.01,"w":179.09},{"p":5,"s":355,"e":178.41,"w":179.09},{"p":5,"s":360.7,"e":178.81,"w":179.09},{"p":5,"s":362.9,"e":178.60,"w":179.09},{"p":5,"s":370,"e":178.81,"w":179.09},{"p":5,"s":375,"e":178.81,"w":179.09},{"p":5,"s":380,"e":178.41,"w":179.09},{"p":5,"s":395.7,"e":178.41,"w":179.09},{"p":5,"s":414.3,"e":178.46,"w":179.09},{"p":5,"s":428.6,"e":178.54,"w":179.09},{"p":5,"s":442.9,"e":178.49,"w":179.09},{"p":5,"s":453.6,"e":178.52,"w":179.09},{"p":5,"s":457.1,"e":178.41,"w":179.09},{"p":5,"s":460.5,"e":179.09,"w":179.09},{"p":5,"s":466.9,"e":179.09,"w":179.09},{"p":5,"s":471.4,"e":178.01,"w":179.09},{"p":5,"s":475,"e":178.60,"w":179.09},{"p":5,"s":487.1,"e":178.83,"w":179.09},{"p":5,"s":491.4,"e":178.72,"w":179.09},{"p":5,"s":496.4,"e":178.60,"w":179.09},{"p":5,"s":507.1,"e":178.75,"w":179.09},{"p":5,"s":517.9,"e":178.75,"w":179.09},{"p":5,"s":525,"e":178.53,"w":179.09},{"p":5,"s":527.1,"e":178.39,"w":179.09},{"p":5,"s":530,"e":178.28,"w":179.09},{"p":5,"s":535.7,"e":178.23,"w":179.09},{"p":5,"s":544.3,"e":178.12,"w":179.09},{"p":5,"s":557.1,"e":178.07,"w":179.09},{"p":5,"s":567.9,"e":178.09,"w":179.09},{"p":5,"s":592.9,"e":178.25,"w":179.09},{"p":5,"s":607.1,"e":178.28,"w":179.09},{"p":5,"s":621.4,"e":178.23,"w":179.09},{"p":5,"s":632.1,"e":178.16,"w":179.09},{"p":5,"s":644.3,"e":178.09,"w":179.09},{"p":5,"s":655.7,"e":178.09,"w":179.09},{"p":5,"s":664.3,"e":178.15,"w":179.09},{"p":5,"s":678.6,"e":178.20,"w":179.09},{"p":5,"s":691.4,"e":178.25,"w":179.09},{"p":5,"s":705.7,"e":178.32,"w":179.09},{"p":5,"s":721.4,"e":178.40,"w":179.09},{"p":5,"s":735.7,"e":178.50,"w":179.09},{"p":5,"s":750,"e":178.59,"w":179.09},{"p":5,"s":760.7,"e":178.66,"w":179.09},{"p":5,"s":778.6,"e":178.74,"w":179.09},
  {"p":6,"s":55.1,"e":179.09,"w":179.09},{"p":6,"s":57.5,"e":178.98,"w":179.09},{"p":6,"s":60.6,"e":178.95,"w":179.09},{"p":6,"s":63.8,"e":178.88,"w":179.09},{"p":6,"s":66.9,"e":178.84,"w":179.09},{"p":6,"s":73.1,"e":178.83,"w":179.09},{"p":6,"s":79.4,"e":178.88,"w":179.09},{"p":6,"s":88.1,"e":178.98,"w":179.09},{"p":6,"s":94.4,"e":178.98,"w":179.09},{"p":6,"s":100.6,"e":178.93,"w":179.09},{"p":6,"s":106.9,"e":178.90,"w":179.09},{"p":6,"s":113.1,"e":178.83,"w":179.09},{"p":6,"s":115.6,"e":178.70,"w":179.09},{"p":6,"s":120,"e":178.27,"w":179.09},{"p":6,"s":123.1,"e":178.65,"w":179.09},{"p":6,"s":125,"e":178.27,"w":179.09},{"p":6,"s":128.1,"e":178.73,"w":179.09},{"p":6,"s":138.8,"e":178.60,"w":179.09},{"p":6,"s":143.1,"e":178.24,"w":179.09},{"p":6,"s":145,"e":178.16,"w":179.09},{"p":6,"s":148.1,"e":178.22,"w":179.09},{"p":6,"s":160.6,"e":178.20,"w":179.09},{"p":6,"s":173.1,"e":178.17,"w":179.09},{"p":6,"s":176.3,"e":178.01,"w":179.09},{"p":6,"s":179.4,"e":178.00,"w":179.09},{"p":6,"s":196.9,"e":177.90,"w":179.09},{"p":6,"s":216.9,"e":177.79,"w":179.09},{"p":6,"s":229.4,"e":178.12,"w":179.09},{"p":6,"s":231.9,"e":178.05,"w":179.09},{"p":6,"s":245.6,"e":178.29,"w":179.09},{"p":6,"s":263.8,"e":178.05,"w":179.09},{"p":6,"s":270,"e":177.64,"w":179.09},{"p":6,"s":271.9,"e":177.30,"w":179.09},{"p":6,"s":275,"e":176.53,"w":179.09},{"p":6,"s":276.3,"e":177.17,"w":179.09},{"p":6,"s":278.1,"e":177.47,"w":179.09},{"p":6,"s":279.4,"e":177.68,"w":179.09},{"p":6,"s":284.4,"e":177.76,"w":179.09},{"p":6,"s":291.9,"e":177.81,"w":179.09},{"p":6,"s":298.1,"e":177.78,"w":179.09},{"p":6,"s":305.6,"e":177.50,"w":179.09},{"p":6,"s":312.5,"e":177.80,"w":179.09},{"p":6,"s":316.9,"e":178.20,"w":179.09},{"p":6,"s":328.1,"e":178.20,"w":179.09},{"p":6,"s":329.4,"e":178.00,"w":179.09},{"p":6,"s":340.6,"e":178.00,"w":179.09},{"p":6,"s":351.3,"e":178.20,"w":179.09},{"p":6,"s":358.8,"e":177.98,"w":179.09},{"p":6,"s":363.8,"e":178.00,"w":179.09},{"p":6,"s":370,"e":178.20,"w":179.09},{"p":6,"s":371.9,"e":178.40,"w":179.09},{"p":6,"s":376.3,"e":178.60,"w":179.09},{"p":6,"s":381.3,"e":179.00,"w":179.09},{"p":6,"s":382.6,"e":179.09,"w":179.09},{"p":6,"s":460.2,"e":179.09,"w":179.09},{"p":6,"s":460.6,"e":179.00,"w":179.09},{"p":6,"s":465.6,"e":178.00,"w":179.09},{"p":6,"s":488.8,"e":178.00,"w":179.09},{"p":6,"s":496.9,"e":178.20,"w":179.09},{"p":6,"s":505.6,"e":178.20,"w":179.09},{"p":6,"s":511.9,"e":178.00,"w":179.09},{"p":6,"s":513.8,"e":177.89,"w":179.09},{"p":6,"s":523.1,"e":177.90,"w":179.09},{"p":6,"s":530.6,"e":178.00,"w":179.09},{"p":6,"s":538.8,"e":178.06,"w":179.09},{"p":6,"s":545,"e":178.05,"w":179.09},{"p":6,"s":551.3,"e":177.98,"w":179.09},{"p":6,"s":560.6,"e":177.92,"w":179.09},{"p":6,"s":568.1,"e":177.85,"w":179.09},{"p":6,"s":576.3,"e":177.79,"w":179.09},{"p":6,"s":582.5,"e":177.82,"w":179.09},{"p":6,"s":588.8,"e":177.91,"w":179.09},{"p":6,"s":598.1,"e":177.98,"w":179.09},{"p":6,"s":607.5,"e":177.97,"w":179.09},{"p":6,"s":616.9,"e":177.91,"w":179.09}
 ]
},
"columns": 3,
"spacing": {"row": 17, "column": 2.5},
"concat": [
 {"vconcat": [
  {"title": {"text": "BearverDamDrain\u00a0\u00a0\u00a0\u00a0\u00a0\u00a0\u00a0Plan: Plan 28\u00a0\u00a0\u00a02022-07-17", "subtitle": "River = BeaverDamDrain\u00a0\u00a0\u00a0Reach = Main\u00a0\u00a0\u00a0\u00a0\u00a0\u00a0\u00a0RS = 3472\u00a0\u00a0New X-Section"},
   "width": 373, "height": 31, "view": {"stroke": null},
   "data": {"name": "rough"}, "transform": [{"filter": "datum.p == 1"}],
   "layer": [
    {"mark": {"type": "rule", "color": "black"}, "encoding": {"x": {"field": "a", "type": "quantitative", "scale": {"domain": [0, 800], "nice": false, "zero": false}, "axis": null}}},
    {"mark": {"type": "rule", "color": "black"}, "encoding": {"x": {"field": "z", "type": "quantitative", "axis": null}}},
    {"transform": [{"filter": "datum.k != 'C'"}], "mark": {"type": "rule", "color": "black"}, "encoding": {"x": {"field": "a", "type": "quantitative", "axis": null}, "x2": {"field": "z"}, "y": {"datum": 0.58, "type": "quantitative", "scale": {"domain": [0, 1]}, "axis": null}}},
    {"transform": [{"filter": "datum.k != 'C'"}], "mark": {"type": "point", "shape": "M-1,0L1,-0.6M-1,0L1,0.6", "filled": false, "color": "black", "strokeWidth": 1, "size": 100, "opacity": 1, "xOffset": 5}, "encoding": {"x": {"field": "a", "type": "quantitative", "axis": null}, "y": {"datum": 0.58, "type": "quantitative", "axis": null}}},
    {"transform": [{"filter": "datum.k != 'C'"}], "mark": {"type": "point", "shape": "M1,0L-1,-0.6M1,0L-1,0.6", "filled": false, "color": "black", "strokeWidth": 1, "size": 100, "opacity": 1, "xOffset": -5}, "encoding": {"x": {"field": "z", "type": "quantitative", "axis": null}, "y": {"datum": 0.58, "type": "quantitative", "axis": null}}},
    {"transform": [{"fold": ["a", "z"], "as": ["key", "val"]}, {"aggregate": [{"op": "mean", "field": "val", "as": "mid"}], "groupby": ["k", "n"]}],
     "layer": [
      {"transform": [{"filter": "datum.k != 'C'"}], "mark": {"type": "text", "fontSize": 17, "stroke": "white", "strokeWidth": 9, "color": "white"}, "encoding": {"x": {"field": "mid", "type": "quantitative", "axis": null}, "y": {"datum": 0.58, "type": "quantitative", "axis": null}, "text": {"field": "n"}}},
      {"transform": [{"filter": "datum.k != 'C'"}], "mark": {"type": "text", "fontSize": 17, "color": "black"}, "encoding": {"x": {"field": "mid", "type": "quantitative", "axis": null}, "y": {"datum": 0.58, "type": "quantitative", "axis": null}, "text": {"field": "n"}}},
      {"transform": [{"filter": "datum.k == 'C'"}], "mark": {"type": "text", "fontSize": 17, "color": "black", "baseline": "top", "lineBreak": "\n", "lineHeight": 17}, "encoding": {"x": {"field": "mid", "type": "quantitative", "axis": null}, "y": {"datum": 0.19, "type": "quantitative", "axis": null}, "text": {"field": "n"}}}
     ]}
   ]},
  {"hconcat": [
   {"width": 373, "height": 465, "view": {"stroke": "#c0c0c0"},
    "layer": [
     {"data": {"name": "water"}, "transform": [{"filter": "datum.p == 1"}], "mark": {"type": "area", "color": "#00ffff", "opacity": 1},
      "encoding": {
       "x": {"field": "s", "type": "quantitative", "scale": {"domain": [0, 800], "nice": false, "zero": false}, "axis": {"values": [0,50,100,150,200,250,300,350,400,450,500,550,600,650,700,750,800], "tickCount": 200, "title": "Station (m)", "labelExpr": "datum.value % 100 === 0 ? datum.label : ''", "gridDash": {"condition": {"test": "datum.value % 100 === 0", "value": []}, "value": [3, 3]}, "gridColor": {"condition": {"test": "datum.value % 100 === 0", "value": "#c8c8c8"}, "value": "#b4b4b4"}}},
       "y": {"field": "e", "type": "quantitative", "scale": {"domain": [176, 181], "nice": false, "zero": false}, "axis": {"values": [176,176.2,176.4,176.6,176.8,177,177.2,177.4,177.6,177.8,178,178.2,178.4,178.6,178.8,179,179.2,179.4,179.6,179.8,180,180.2,180.4,180.6,180.8,181], "tickCount": 200, "title": "Elevation (m)", "titlePadding": 33, "labelExpr": "abs(datum.value - round(datum.value)) < 0.001 ? format(datum.value, 'd') : ''", "gridDash": {"condition": {"test": "abs(datum.value - round(datum.value)) < 0.001", "value": []}, "value": [3, 3]}, "gridColor": {"condition": {"test": "abs(datum.value - round(datum.value)) < 0.001", "value": "#c8c8c8"}, "value": "#b4b4b4"}}},
       "y2": {"field": "w"}, "order": {"value": null}}},
     {"data": {"name": "ws"}, "transform": [{"filter": "datum.p == 1"}], "mark": {"type": "rule", "color": "#3030ff", "strokeWidth": 1}, "encoding": {"x": {"field": "a", "type": "quantitative"}, "x2": {"field": "z"}, "y": {"field": "w", "type": "quantitative"}}},
     {"data": {"name": "ws"}, "transform": [{"filter": "datum.p == 1"}], "mark": {"type": "rule", "color": "#00a000", "strokeWidth": 1, "strokeDash": [3, 3]}, "encoding": {"x": {"field": "a", "type": "quantitative"}, "x2": {"field": "z"}, "y": {"field": "w", "type": "quantitative"}}},
     {"data": {"name": "ground"}, "transform": [{"filter": "datum.p == 1"}], "mark": {"type": "line", "color": "black", "strokeWidth": 1.2}, "encoding": {"x": {"field": "s", "type": "quantitative"}, "y": {"field": "e", "type": "quantitative"}, "order": {"value": null}}},
     {"data": {"name": "ground"}, "transform": [{"filter": "datum.p == 1"}], "mark": {"type": "point", "shape": "square", "filled": true, "color": "black", "size": 42, "opacity": 1}, "encoding": {"x": {"field": "s", "type": "quantitative"}, "y": {"field": "e", "type": "quantitative"}}},
     {"data": {"name": "banks"}, "transform": [{"filter": "datum.p == 1"}], "mark": {"type": "point", "shape": "circle", "filled": true, "color": "#ff0000", "size": 110, "opacity": 1}, "encoding": {"x": {"field": "s", "type": "quantitative"}, "y": {"field": "e", "type": "quantitative"}}},
     {"data": {"name": "arrow"}, "transform": [{"filter": "datum.p == 1"}], "mark": {"type": "line", "color": "#ff0000", "strokeWidth": 2}, "encoding": {"x": {"field": "s", "type": "quantitative"}, "y": {"field": "e", "type": "quantitative"}, "detail": {"field": "g"}, "order": {"value": null}}},
     {"data": {"name": "note"}, "transform": [{"filter": "datum.p == 1"}], "mark": {"type": "text", "align": "left", "baseline": "top", "fontSize": 24, "fontWeight": "bold", "color": "#ff0000", "lineBreak": "\n", "lineHeight": 26}, "encoding": {"x": {"field": "s", "type": "quantitative"}, "y": {"field": "e", "type": "quantitative"}, "text": {"field": "t"}}}
    ]},
   {"width": 103, "height": 173, "view": {"stroke": "black", "strokeWidth": 1.2}, "data": {"name": "legend"},
    "encoding": {"y": {"field": "item", "type": "nominal", "scale": {"type": "point", "domain": ["EG PF 1", "WS PF 1", "Ground", "Bank Sta"], "padding": 0.995, "align": 0.71}, "axis": null}},
    "layer": [
     {"mark": {"type": "text", "fontSize": 17, "color": "black"}, "encoding": {"text": {"field": "item"}, "x": {"datum": 0.5, "type": "quantitative", "scale": {"domain": [0, 1]}, "axis": null}}},
     {"transform": [{"filter": "datum.item == 'EG PF 1'"}], "mark": {"type": "text", "text": "Legend", "fontSize": 17, "fontWeight": "bold", "color": "black", "dy": -39}, "encoding": {"x": {"datum": 0.5, "type": "quantitative", "axis": null}}},
     {"transform": [{"filter": "datum.item == 'EG PF 1'"}], "mark": {"type": "rule", "color": "black", "strokeWidth": 1.2, "yOffset": -25}, "encoding": {}},
     {"transform": [{"filter": "datum.item == 'EG PF 1'"}], "mark": {"type": "rule", "color": "#00a000", "strokeDash": [3, 2], "yOffset": -15}, "encoding": {"x": {"datum": 0.09, "type": "quantitative", "axis": null}, "x2": {"datum": 0.91}}},
     {"transform": [{"filter": "datum.item == 'WS PF 1'"}], "mark": {"type": "rule", "color": "#3030ff", "strokeWidth": 1.5, "yOffset": -15}, "encoding": {"x": {"datum": 0.09, "type": "quantitative", "axis": null}, "x2": {"datum": 0.91}}},
     {"transform": [{"filter": "datum.item == 'Ground'"}], "mark": {"type": "rule", "color": "black", "yOffset": -14}, "encoding": {"x": {"datum": 0.09, "type": "quantitative", "axis": null}, "x2": {"datum": 0.91}}},
     {"transform": [{"filter": "datum.item == 'Ground'"}], "mark": {"type": "point", "shape": "square", "filled": true, "color": "black", "size": 42, "opacity": 1, "yOffset": -14}, "encoding": {"x": {"datum": 0.5, "type": "quantitative", "axis": null}}},
     {"transform": [{"filter": "datum.item == 'Bank Sta'"}], "mark": {"type": "point", "shape": "circle", "filled": true, "color": "#ff0000", "size": 110, "opacity": 1, "yOffset": -15}, "encoding": {"x": {"datum": 0.5, "type": "quantitative", "axis": null}}},
     {"transform": [{"filter": "datum.item == 'EG PF 1'"}], "mark": {"type": "point", "opacity": 0, "size": 1}, "encoding": {"x": {"datum": 1.1456, "type": "quantitative", "axis": null}}}
    ]}
  ], "spacing": 9, "bounds": "flush"}
 ], "spacing": 0, "bounds": "flush"},
 {"vconcat": [
  {"title": {"text": "BearverDamDrain\u00a0\u00a0\u00a0\u00a0\u00a0\u00a0\u00a0Plan: Plan 28\u00a0\u00a0\u00a02022-07-17", "subtitle": "River = BeaverDamDrain\u00a0\u00a0\u00a0Reach = Main\u00a0\u00a0\u00a0\u00a0\u00a0\u00a0RS = 3440.136", "subtitleFontSize": 17, "subtitlePadding": 6},
   "width": 373, "height": 31, "view": {"stroke": null},
   "data": {"name": "rough"}, "transform": [{"filter": "datum.p == 2"}],
   "layer": [
    {"mark": {"type": "rule", "color": "black"}, "encoding": {"x": {"field": "a", "type": "quantitative", "scale": {"domain": [0, 800], "nice": false, "zero": false}, "axis": null}}},
    {"mark": {"type": "rule", "color": "black"}, "encoding": {"x": {"field": "z", "type": "quantitative", "axis": null}}},
    {"transform": [{"filter": "datum.k != 'C'"}], "mark": {"type": "rule", "color": "black"}, "encoding": {"x": {"field": "a", "type": "quantitative", "axis": null}, "x2": {"field": "z"}, "y": {"datum": 0.58, "type": "quantitative", "scale": {"domain": [0, 1]}, "axis": null}}},
    {"transform": [{"filter": "datum.k != 'C'"}], "mark": {"type": "point", "shape": "M-1,0L1,-0.6M-1,0L1,0.6", "filled": false, "color": "black", "strokeWidth": 1, "size": 100, "opacity": 1, "xOffset": 5}, "encoding": {"x": {"field": "a", "type": "quantitative", "axis": null}, "y": {"datum": 0.58, "type": "quantitative", "axis": null}}},
    {"transform": [{"filter": "datum.k != 'C'"}], "mark": {"type": "point", "shape": "M1,0L-1,-0.6M1,0L-1,0.6", "filled": false, "color": "black", "strokeWidth": 1, "size": 100, "opacity": 1, "xOffset": -5}, "encoding": {"x": {"field": "z", "type": "quantitative", "axis": null}, "y": {"datum": 0.58, "type": "quantitative", "axis": null}}},
    {"transform": [{"fold": ["a", "z"], "as": ["key", "val"]}, {"aggregate": [{"op": "mean", "field": "val", "as": "mid"}], "groupby": ["k", "n"]}],
     "layer": [
      {"transform": [{"filter": "datum.k != 'C'"}], "mark": {"type": "text", "fontSize": 17, "stroke": "white", "strokeWidth": 9, "color": "white"}, "encoding": {"x": {"field": "mid", "type": "quantitative", "axis": null}, "y": {"datum": 0.58, "type": "quantitative", "axis": null}, "text": {"field": "n"}}},
      {"transform": [{"filter": "datum.k != 'C'"}], "mark": {"type": "text", "fontSize": 17, "color": "black"}, "encoding": {"x": {"field": "mid", "type": "quantitative", "axis": null}, "y": {"datum": 0.58, "type": "quantitative", "axis": null}, "text": {"field": "n"}}},
      {"transform": [{"filter": "datum.k == 'C'"}], "mark": {"type": "text", "fontSize": 17, "color": "black", "baseline": "top", "lineBreak": "\n", "lineHeight": 17}, "encoding": {"x": {"field": "mid", "type": "quantitative", "axis": null}, "y": {"datum": 0.19, "type": "quantitative", "axis": null}, "text": {"field": "n"}}}
     ]}
   ]},
  {"hconcat": [
   {"width": 373, "height": 465, "view": {"stroke": "#c0c0c0"},
    "layer": [
     {"data": {"name": "water"}, "transform": [{"filter": "datum.p == 2"}], "mark": {"type": "area", "color": "#00ffff", "opacity": 1},
      "encoding": {
       "x": {"field": "s", "type": "quantitative", "scale": {"domain": [0, 800], "nice": false, "zero": false}, "axis": {"values": [0,50,100,150,200,250,300,350,400,450,500,550,600,650,700,750,800], "tickCount": 200, "title": "Station (m)", "labelExpr": "datum.value % 100 === 0 ? datum.label : ''", "gridDash": {"condition": {"test": "datum.value % 100 === 0", "value": []}, "value": [3, 3]}, "gridColor": {"condition": {"test": "datum.value % 100 === 0", "value": "#c8c8c8"}, "value": "#b4b4b4"}}},
       "y": {"field": "e", "type": "quantitative", "scale": {"domain": [176.5, 180], "nice": false, "zero": false}, "axis": {"values": [176.5,176.6,176.7,176.8,176.9,177,177.1,177.2,177.3,177.4,177.5,177.6,177.7,177.8,177.9,178,178.1,178.2,178.3,178.4,178.5,178.6,178.7,178.8,178.9,179,179.1,179.2,179.3,179.4,179.5,179.6,179.7,179.8,179.9,180], "tickCount": 200, "title": "Elevation (m)", "labelExpr": "abs(datum.value * 2 - round(datum.value * 2)) < 0.001 ? format(datum.value, '.1f') : ''", "gridDash": {"condition": {"test": "abs(datum.value * 2 - round(datum.value * 2)) < 0.001", "value": []}, "value": [3, 3]}, "gridColor": {"condition": {"test": "abs(datum.value * 2 - round(datum.value * 2)) < 0.001", "value": "#c8c8c8"}, "value": "#b4b4b4"}}},
       "y2": {"field": "w"}, "order": {"value": null}}},
     {"data": {"name": "ws"}, "transform": [{"filter": "datum.p == 2"}], "mark": {"type": "rule", "color": "#3030ff", "strokeWidth": 1}, "encoding": {"x": {"field": "a", "type": "quantitative"}, "x2": {"field": "z"}, "y": {"field": "w", "type": "quantitative"}}},
     {"data": {"name": "ws"}, "transform": [{"filter": "datum.p == 2"}], "mark": {"type": "rule", "color": "#00a000", "strokeWidth": 1, "strokeDash": [3, 3]}, "encoding": {"x": {"field": "a", "type": "quantitative"}, "x2": {"field": "z"}, "y": {"field": "w", "type": "quantitative"}}},
     {"data": {"name": "ground"}, "transform": [{"filter": "datum.p == 2"}], "mark": {"type": "line", "color": "black", "strokeWidth": 1.2}, "encoding": {"x": {"field": "s", "type": "quantitative"}, "y": {"field": "e", "type": "quantitative"}, "order": {"value": null}}},
     {"data": {"name": "ground"}, "transform": [{"filter": "datum.p == 2"}], "mark": {"type": "point", "shape": "square", "filled": true, "color": "black", "size": 42, "opacity": 1}, "encoding": {"x": {"field": "s", "type": "quantitative"}, "y": {"field": "e", "type": "quantitative"}}},
     {"data": {"name": "banks"}, "transform": [{"filter": "datum.p == 2"}], "mark": {"type": "point", "shape": "circle", "filled": true, "color": "#ff0000", "size": 110, "opacity": 1}, "encoding": {"x": {"field": "s", "type": "quantitative"}, "y": {"field": "e", "type": "quantitative"}}},
     {"data": {"name": "arrow"}, "transform": [{"filter": "datum.p == 2"}], "mark": {"type": "line", "color": "#ff0000", "strokeWidth": 2}, "encoding": {"x": {"field": "s", "type": "quantitative"}, "y": {"field": "e", "type": "quantitative"}, "detail": {"field": "g"}, "order": {"value": null}}},
     {"data": {"name": "note"}, "transform": [{"filter": "datum.p == 2"}], "mark": {"type": "text", "align": "left", "baseline": "top", "fontSize": 24, "fontWeight": "bold", "color": "#ff0000", "lineBreak": "\n", "lineHeight": 26}, "encoding": {"x": {"field": "s", "type": "quantitative"}, "y": {"field": "e", "type": "quantitative"}, "text": {"field": "t"}}}
    ]},
   {"width": 103, "height": 173, "view": {"stroke": "black", "strokeWidth": 1.2}, "data": {"name": "legend"},
    "encoding": {"y": {"field": "item", "type": "nominal", "scale": {"type": "point", "domain": ["EG PF 1", "WS PF 1", "Ground", "Bank Sta"], "padding": 0.995, "align": 0.71}, "axis": null}},
    "layer": [
     {"mark": {"type": "text", "fontSize": 17, "color": "black"}, "encoding": {"text": {"field": "item"}, "x": {"datum": 0.5, "type": "quantitative", "scale": {"domain": [0, 1]}, "axis": null}}},
     {"transform": [{"filter": "datum.item == 'EG PF 1'"}], "mark": {"type": "text", "text": "Legend", "fontSize": 17, "fontWeight": "bold", "color": "black", "dy": -39}, "encoding": {"x": {"datum": 0.5, "type": "quantitative", "axis": null}}},
     {"transform": [{"filter": "datum.item == 'EG PF 1'"}], "mark": {"type": "rule", "color": "black", "strokeWidth": 1.2, "yOffset": -25}, "encoding": {}},
     {"transform": [{"filter": "datum.item == 'EG PF 1'"}], "mark": {"type": "rule", "color": "#00a000", "strokeDash": [3, 2], "yOffset": -15}, "encoding": {"x": {"datum": 0.09, "type": "quantitative", "axis": null}, "x2": {"datum": 0.91}}},
     {"transform": [{"filter": "datum.item == 'WS PF 1'"}], "mark": {"type": "rule", "color": "#3030ff", "strokeWidth": 1.5, "yOffset": -15}, "encoding": {"x": {"datum": 0.09, "type": "quantitative", "axis": null}, "x2": {"datum": 0.91}}},
     {"transform": [{"filter": "datum.item == 'Ground'"}], "mark": {"type": "rule", "color": "black", "yOffset": -14}, "encoding": {"x": {"datum": 0.09, "type": "quantitative", "axis": null}, "x2": {"datum": 0.91}}},
     {"transform": [{"filter": "datum.item == 'Ground'"}], "mark": {"type": "point", "shape": "square", "filled": true, "color": "black", "size": 42, "opacity": 1, "yOffset": -14}, "encoding": {"x": {"datum": 0.5, "type": "quantitative", "axis": null}}},
     {"transform": [{"filter": "datum.item == 'Bank Sta'"}], "mark": {"type": "point", "shape": "circle", "filled": true, "color": "#ff0000", "size": 110, "opacity": 1, "yOffset": -15}, "encoding": {"x": {"datum": 0.5, "type": "quantitative", "axis": null}}},
     {"transform": [{"filter": "datum.item == 'EG PF 1'"}], "mark": {"type": "point", "opacity": 0, "size": 1}, "encoding": {"x": {"datum": 1.1456, "type": "quantitative", "axis": null}}}
    ]}
  ], "spacing": 9, "bounds": "flush"}
 ], "spacing": 0, "bounds": "flush"},
 {"vconcat": [
  {"title": {"text": "BearverDamDrain\u00a0\u00a0\u00a0\u00a0\u00a0\u00a0\u00a0Plan: Plan 28\u00a0\u00a0\u00a02022-07-17", "subtitle": "River = BeaverDamDrain\u00a0\u00a0\u00a0Reach = Main\u00a0\u00a0\u00a0\u00a0\u00a0\u00a0\u00a0RS = 3416\u00a0\u00a0New X-Section"},
   "width": 373, "height": 31, "view": {"stroke": null},
   "data": {"name": "rough"}, "transform": [{"filter": "datum.p == 3"}],
   "layer": [
    {"mark": {"type": "rule", "color": "black"}, "encoding": {"x": {"field": "a", "type": "quantitative", "scale": {"domain": [0, 800], "nice": false, "zero": false}, "axis": null}}},
    {"mark": {"type": "rule", "color": "black"}, "encoding": {"x": {"field": "z", "type": "quantitative", "axis": null}}},
    {"transform": [{"filter": "datum.k != 'C'"}], "mark": {"type": "rule", "color": "black"}, "encoding": {"x": {"field": "a", "type": "quantitative", "axis": null}, "x2": {"field": "z"}, "y": {"datum": 0.58, "type": "quantitative", "scale": {"domain": [0, 1]}, "axis": null}}},
    {"transform": [{"filter": "datum.k != 'C'"}], "mark": {"type": "point", "shape": "M-1,0L1,-0.6M-1,0L1,0.6", "filled": false, "color": "black", "strokeWidth": 1, "size": 100, "opacity": 1, "xOffset": 5}, "encoding": {"x": {"field": "a", "type": "quantitative", "axis": null}, "y": {"datum": 0.58, "type": "quantitative", "axis": null}}},
    {"transform": [{"filter": "datum.k != 'C'"}], "mark": {"type": "point", "shape": "M1,0L-1,-0.6M1,0L-1,0.6", "filled": false, "color": "black", "strokeWidth": 1, "size": 100, "opacity": 1, "xOffset": -5}, "encoding": {"x": {"field": "z", "type": "quantitative", "axis": null}, "y": {"datum": 0.58, "type": "quantitative", "axis": null}}},
    {"transform": [{"fold": ["a", "z"], "as": ["key", "val"]}, {"aggregate": [{"op": "mean", "field": "val", "as": "mid"}], "groupby": ["k", "n"]}],
     "layer": [
      {"transform": [{"filter": "datum.k != 'C'"}], "mark": {"type": "text", "fontSize": 17, "stroke": "white", "strokeWidth": 9, "color": "white"}, "encoding": {"x": {"field": "mid", "type": "quantitative", "axis": null}, "y": {"datum": 0.58, "type": "quantitative", "axis": null}, "text": {"field": "n"}}},
      {"transform": [{"filter": "datum.k != 'C'"}], "mark": {"type": "text", "fontSize": 17, "color": "black"}, "encoding": {"x": {"field": "mid", "type": "quantitative", "axis": null}, "y": {"datum": 0.58, "type": "quantitative", "axis": null}, "text": {"field": "n"}}},
      {"transform": [{"filter": "datum.k == 'C'"}], "mark": {"type": "text", "fontSize": 17, "color": "black", "baseline": "top", "lineBreak": "\n", "lineHeight": 17}, "encoding": {"x": {"field": "mid", "type": "quantitative", "axis": null}, "y": {"datum": 0.19, "type": "quantitative", "axis": null}, "text": {"field": "n"}}}
     ]}
   ]},
  {"hconcat": [
   {"width": 373, "height": 465, "view": {"stroke": "#c0c0c0"},
    "layer": [
     {"data": {"name": "water"}, "transform": [{"filter": "datum.p == 3"}], "mark": {"type": "area", "color": "#00ffff", "opacity": 1},
      "encoding": {
       "x": {"field": "s", "type": "quantitative", "scale": {"domain": [0, 800], "nice": false, "zero": false}, "axis": {"values": [0,50,100,150,200,250,300,350,400,450,500,550,600,650,700,750,800], "tickCount": 200, "title": "Station (m)", "labelExpr": "datum.value % 100 === 0 ? datum.label : ''", "gridDash": {"condition": {"test": "datum.value % 100 === 0", "value": []}, "value": [3, 3]}, "gridColor": {"condition": {"test": "datum.value % 100 === 0", "value": "#c8c8c8"}, "value": "#b4b4b4"}}},
       "y": {"field": "e", "type": "quantitative", "scale": {"domain": [176, 180], "nice": false, "zero": false}, "axis": {"values": [176,176.25,176.5,176.75,177,177.25,177.5,177.75,178,178.25,178.5,178.75,179,179.25,179.5,179.75,180], "tickCount": 200, "title": "Elevation (m)", "labelExpr": "abs(datum.value * 2 - round(datum.value * 2)) < 0.001 ? format(datum.value, '.1f') : ''", "gridDash": {"condition": {"test": "abs(datum.value * 2 - round(datum.value * 2)) < 0.001", "value": []}, "value": [3, 3]}, "gridColor": {"condition": {"test": "abs(datum.value * 2 - round(datum.value * 2)) < 0.001", "value": "#c8c8c8"}, "value": "#b4b4b4"}}},
       "y2": {"field": "w"}, "order": {"value": null}}},
     {"data": {"name": "ws"}, "transform": [{"filter": "datum.p == 3"}], "mark": {"type": "rule", "color": "#3030ff", "strokeWidth": 1}, "encoding": {"x": {"field": "a", "type": "quantitative"}, "x2": {"field": "z"}, "y": {"field": "w", "type": "quantitative"}}},
     {"data": {"name": "ws"}, "transform": [{"filter": "datum.p == 3"}], "mark": {"type": "rule", "color": "#00a000", "strokeWidth": 1, "strokeDash": [3, 3]}, "encoding": {"x": {"field": "a", "type": "quantitative"}, "x2": {"field": "z"}, "y": {"field": "w", "type": "quantitative"}}},
     {"data": {"name": "ground"}, "transform": [{"filter": "datum.p == 3"}], "mark": {"type": "line", "color": "black", "strokeWidth": 1.2}, "encoding": {"x": {"field": "s", "type": "quantitative"}, "y": {"field": "e", "type": "quantitative"}, "order": {"value": null}}},
     {"data": {"name": "ground"}, "transform": [{"filter": "datum.p == 3"}], "mark": {"type": "point", "shape": "square", "filled": true, "color": "black", "size": 42, "opacity": 1}, "encoding": {"x": {"field": "s", "type": "quantitative"}, "y": {"field": "e", "type": "quantitative"}}},
     {"data": {"name": "banks"}, "transform": [{"filter": "datum.p == 3"}], "mark": {"type": "point", "shape": "circle", "filled": true, "color": "#ff0000", "size": 110, "opacity": 1}, "encoding": {"x": {"field": "s", "type": "quantitative"}, "y": {"field": "e", "type": "quantitative"}}},
     {"data": {"name": "arrow"}, "transform": [{"filter": "datum.p == 3"}], "mark": {"type": "line", "color": "#ff0000", "strokeWidth": 2}, "encoding": {"x": {"field": "s", "type": "quantitative"}, "y": {"field": "e", "type": "quantitative"}, "detail": {"field": "g"}, "order": {"value": null}}},
     {"data": {"name": "note"}, "transform": [{"filter": "datum.p == 3"}], "mark": {"type": "text", "align": "left", "baseline": "top", "fontSize": 24, "fontWeight": "bold", "color": "#ff0000", "lineBreak": "\n", "lineHeight": 26}, "encoding": {"x": {"field": "s", "type": "quantitative"}, "y": {"field": "e", "type": "quantitative"}, "text": {"field": "t"}}}
    ]},
   {"width": 103, "height": 173, "view": {"stroke": "black", "strokeWidth": 1.2}, "data": {"name": "legend"},
    "encoding": {"y": {"field": "item", "type": "nominal", "scale": {"type": "point", "domain": ["EG PF 1", "WS PF 1", "Ground", "Bank Sta"], "padding": 0.995, "align": 0.71}, "axis": null}},
    "layer": [
     {"mark": {"type": "text", "fontSize": 17, "color": "black"}, "encoding": {"text": {"field": "item"}, "x": {"datum": 0.5, "type": "quantitative", "scale": {"domain": [0, 1]}, "axis": null}}},
     {"transform": [{"filter": "datum.item == 'EG PF 1'"}], "mark": {"type": "text", "text": "Legend", "fontSize": 17, "fontWeight": "bold", "color": "black", "dy": -39}, "encoding": {"x": {"datum": 0.5, "type": "quantitative", "axis": null}}},
     {"transform": [{"filter": "datum.item == 'EG PF 1'"}], "mark": {"type": "rule", "color": "black", "strokeWidth": 1.2, "yOffset": -25}, "encoding": {}},
     {"transform": [{"filter": "datum.item == 'EG PF 1'"}], "mark": {"type": "rule", "color": "#00a000", "strokeDash": [3, 2], "yOffset": -15}, "encoding": {"x": {"datum": 0.09, "type": "quantitative", "axis": null}, "x2": {"datum": 0.91}}},
     {"transform": [{"filter": "datum.item == 'WS PF 1'"}], "mark": {"type": "rule", "color": "#3030ff", "strokeWidth": 1.5, "yOffset": -15}, "encoding": {"x": {"datum": 0.09, "type": "quantitative", "axis": null}, "x2": {"datum": 0.91}}},
     {"transform": [{"filter": "datum.item == 'Ground'"}], "mark": {"type": "rule", "color": "black", "yOffset": -14}, "encoding": {"x": {"datum": 0.09, "type": "quantitative", "axis": null}, "x2": {"datum": 0.91}}},
     {"transform": [{"filter": "datum.item == 'Ground'"}], "mark": {"type": "point", "shape": "square", "filled": true, "color": "black", "size": 42, "opacity": 1, "yOffset": -14}, "encoding": {"x": {"datum": 0.5, "type": "quantitative", "axis": null}}},
     {"transform": [{"filter": "datum.item == 'Bank Sta'"}], "mark": {"type": "point", "shape": "circle", "filled": true, "color": "#ff0000", "size": 110, "opacity": 1, "yOffset": -15}, "encoding": {"x": {"datum": 0.5, "type": "quantitative", "axis": null}}},
     {"transform": [{"filter": "datum.item == 'EG PF 1'"}], "mark": {"type": "point", "opacity": 0, "size": 1}, "encoding": {"x": {"datum": 1.1456, "type": "quantitative", "axis": null}}}
    ]}
  ], "spacing": 9, "bounds": "flush"}
 ], "spacing": 0, "bounds": "flush"},
 {"vconcat": [
  {"title": {"text": "BearverDamDrain\u00a0\u00a0\u00a0\u00a0\u00a0\u00a0\u00a0Plan: Plan 28\u00a0\u00a0\u00a02022-07-17", "subtitle": "River = BeaverDamDrain\u00a0\u00a0\u00a0Reach = Main\u00a0\u00a0\u00a0\u00a0\u00a0\u00a0\u00a0RS = 3392\u00a0\u00a0New X-Section"},
   "width": 373, "height": 31, "view": {"stroke": null},
   "data": {"name": "rough"}, "transform": [{"filter": "datum.p == 4"}],
   "layer": [
    {"mark": {"type": "rule", "color": "black"}, "encoding": {"x": {"field": "a", "type": "quantitative", "scale": {"domain": [0, 800], "nice": false, "zero": false}, "axis": null}}},
    {"mark": {"type": "rule", "color": "black"}, "encoding": {"x": {"field": "z", "type": "quantitative", "axis": null}}},
    {"transform": [{"filter": "datum.k != 'C'"}], "mark": {"type": "rule", "color": "black"}, "encoding": {"x": {"field": "a", "type": "quantitative", "axis": null}, "x2": {"field": "z"}, "y": {"datum": 0.58, "type": "quantitative", "scale": {"domain": [0, 1]}, "axis": null}}},
    {"transform": [{"filter": "datum.k != 'C'"}], "mark": {"type": "point", "shape": "M-1,0L1,-0.6M-1,0L1,0.6", "filled": false, "color": "black", "strokeWidth": 1, "size": 100, "opacity": 1, "xOffset": 5}, "encoding": {"x": {"field": "a", "type": "quantitative", "axis": null}, "y": {"datum": 0.58, "type": "quantitative", "axis": null}}},
    {"transform": [{"filter": "datum.k != 'C'"}], "mark": {"type": "point", "shape": "M1,0L-1,-0.6M1,0L-1,0.6", "filled": false, "color": "black", "strokeWidth": 1, "size": 100, "opacity": 1, "xOffset": -5}, "encoding": {"x": {"field": "z", "type": "quantitative", "axis": null}, "y": {"datum": 0.58, "type": "quantitative", "axis": null}}},
    {"transform": [{"fold": ["a", "z"], "as": ["key", "val"]}, {"aggregate": [{"op": "mean", "field": "val", "as": "mid"}], "groupby": ["k", "n"]}],
     "layer": [
      {"transform": [{"filter": "datum.k != 'C'"}], "mark": {"type": "text", "fontSize": 17, "stroke": "white", "strokeWidth": 9, "color": "white"}, "encoding": {"x": {"field": "mid", "type": "quantitative", "axis": null}, "y": {"datum": 0.58, "type": "quantitative", "axis": null}, "text": {"field": "n"}}},
      {"transform": [{"filter": "datum.k != 'C'"}], "mark": {"type": "text", "fontSize": 17, "color": "black"}, "encoding": {"x": {"field": "mid", "type": "quantitative", "axis": null}, "y": {"datum": 0.58, "type": "quantitative", "axis": null}, "text": {"field": "n"}}},
      {"transform": [{"filter": "datum.k == 'C'"}], "mark": {"type": "text", "fontSize": 17, "color": "black", "baseline": "top", "lineBreak": "\n", "lineHeight": 17}, "encoding": {"x": {"field": "mid", "type": "quantitative", "axis": null}, "y": {"datum": 0.19, "type": "quantitative", "axis": null}, "text": {"field": "n"}}}
     ]}
   ]},
  {"hconcat": [
   {"width": 373, "height": 465, "view": {"stroke": "#c0c0c0"},
    "layer": [
     {"data": {"name": "water"}, "transform": [{"filter": "datum.p == 4"}], "mark": {"type": "area", "color": "#00ffff", "opacity": 1},
      "encoding": {
       "x": {"field": "s", "type": "quantitative", "scale": {"domain": [0, 800], "nice": false, "zero": false}, "axis": {"values": [0,50,100,150,200,250,300,350,400,450,500,550,600,650,700,750,800], "tickCount": 200, "title": "Station (m)", "labelExpr": "datum.value % 100 === 0 ? datum.label : ''", "gridDash": {"condition": {"test": "datum.value % 100 === 0", "value": []}, "value": [3, 3]}, "gridColor": {"condition": {"test": "datum.value % 100 === 0", "value": "#c8c8c8"}, "value": "#b4b4b4"}}},
       "y": {"field": "e", "type": "quantitative", "scale": {"domain": [176.5, 180], "nice": false, "zero": false}, "axis": {"values": [176.5,176.6,176.7,176.8,176.9,177,177.1,177.2,177.3,177.4,177.5,177.6,177.7,177.8,177.9,178,178.1,178.2,178.3,178.4,178.5,178.6,178.7,178.8,178.9,179,179.1,179.2,179.3,179.4,179.5,179.6,179.7,179.8,179.9,180], "tickCount": 200, "title": "Elevation (m)", "labelExpr": "abs(datum.value * 2 - round(datum.value * 2)) < 0.001 ? format(datum.value, '.1f') : ''", "gridDash": {"condition": {"test": "abs(datum.value * 2 - round(datum.value * 2)) < 0.001", "value": []}, "value": [3, 3]}, "gridColor": {"condition": {"test": "abs(datum.value * 2 - round(datum.value * 2)) < 0.001", "value": "#c8c8c8"}, "value": "#b4b4b4"}}},
       "y2": {"field": "w"}, "order": {"value": null}}},
     {"data": {"name": "ws"}, "transform": [{"filter": "datum.p == 4"}], "mark": {"type": "rule", "color": "#3030ff", "strokeWidth": 1}, "encoding": {"x": {"field": "a", "type": "quantitative"}, "x2": {"field": "z"}, "y": {"field": "w", "type": "quantitative"}}},
     {"data": {"name": "ws"}, "transform": [{"filter": "datum.p == 4"}], "mark": {"type": "rule", "color": "#00a000", "strokeWidth": 1, "strokeDash": [3, 3]}, "encoding": {"x": {"field": "a", "type": "quantitative"}, "x2": {"field": "z"}, "y": {"field": "w", "type": "quantitative"}}},
     {"data": {"name": "ground"}, "transform": [{"filter": "datum.p == 4"}], "mark": {"type": "line", "color": "black", "strokeWidth": 1.2}, "encoding": {"x": {"field": "s", "type": "quantitative"}, "y": {"field": "e", "type": "quantitative"}, "order": {"value": null}}},
     {"data": {"name": "ground"}, "transform": [{"filter": "datum.p == 4"}], "mark": {"type": "point", "shape": "square", "filled": true, "color": "black", "size": 42, "opacity": 1}, "encoding": {"x": {"field": "s", "type": "quantitative"}, "y": {"field": "e", "type": "quantitative"}}},
     {"data": {"name": "banks"}, "transform": [{"filter": "datum.p == 4"}], "mark": {"type": "point", "shape": "circle", "filled": true, "color": "#ff0000", "size": 110, "opacity": 1}, "encoding": {"x": {"field": "s", "type": "quantitative"}, "y": {"field": "e", "type": "quantitative"}}},
     {"data": {"name": "arrow"}, "transform": [{"filter": "datum.p == 4"}], "mark": {"type": "line", "color": "#ff0000", "strokeWidth": 2}, "encoding": {"x": {"field": "s", "type": "quantitative"}, "y": {"field": "e", "type": "quantitative"}, "detail": {"field": "g"}, "order": {"value": null}}},
     {"data": {"name": "note"}, "transform": [{"filter": "datum.p == 4"}], "mark": {"type": "text", "align": "left", "baseline": "top", "fontSize": 24, "fontWeight": "bold", "color": "#ff0000", "lineBreak": "\n", "lineHeight": 26}, "encoding": {"x": {"field": "s", "type": "quantitative"}, "y": {"field": "e", "type": "quantitative"}, "text": {"field": "t"}}}
    ]},
   {"width": 103, "height": 173, "view": {"stroke": "black", "strokeWidth": 1.2}, "data": {"name": "legend"},
    "encoding": {"y": {"field": "item", "type": "nominal", "scale": {"type": "point", "domain": ["EG PF 1", "WS PF 1", "Ground", "Bank Sta"], "padding": 0.995, "align": 0.71}, "axis": null}},
    "layer": [
     {"mark": {"type": "text", "fontSize": 17, "color": "black"}, "encoding": {"text": {"field": "item"}, "x": {"datum": 0.5, "type": "quantitative", "scale": {"domain": [0, 1]}, "axis": null}}},
     {"transform": [{"filter": "datum.item == 'EG PF 1'"}], "mark": {"type": "text", "text": "Legend", "fontSize": 17, "fontWeight": "bold", "color": "black", "dy": -39}, "encoding": {"x": {"datum": 0.5, "type": "quantitative", "axis": null}}},
     {"transform": [{"filter": "datum.item == 'EG PF 1'"}], "mark": {"type": "rule", "color": "black", "strokeWidth": 1.2, "yOffset": -25}, "encoding": {}},
     {"transform": [{"filter": "datum.item == 'EG PF 1'"}], "mark": {"type": "rule", "color": "#00a000", "strokeDash": [3, 2], "yOffset": -15}, "encoding": {"x": {"datum": 0.09, "type": "quantitative", "axis": null}, "x2": {"datum": 0.91}}},
     {"transform": [{"filter": "datum.item == 'WS PF 1'"}], "mark": {"type": "rule", "color": "#3030ff", "strokeWidth": 1.5, "yOffset": -15}, "encoding": {"x": {"datum": 0.09, "type": "quantitative", "axis": null}, "x2": {"datum": 0.91}}},
     {"transform": [{"filter": "datum.item == 'Ground'"}], "mark": {"type": "rule", "color": "black", "yOffset": -14}, "encoding": {"x": {"datum": 0.09, "type": "quantitative", "axis": null}, "x2": {"datum": 0.91}}},
     {"transform": [{"filter": "datum.item == 'Ground'"}], "mark": {"type": "point", "shape": "square", "filled": true, "color": "black", "size": 42, "opacity": 1, "yOffset": -14}, "encoding": {"x": {"datum": 0.5, "type": "quantitative", "axis": null}}},
     {"transform": [{"filter": "datum.item == 'Bank Sta'"}], "mark": {"type": "point", "shape": "circle", "filled": true, "color": "#ff0000", "size": 110, "opacity": 1, "yOffset": -15}, "encoding": {"x": {"datum": 0.5, "type": "quantitative", "axis": null}}},
     {"transform": [{"filter": "datum.item == 'EG PF 1'"}], "mark": {"type": "point", "opacity": 0, "size": 1}, "encoding": {"x": {"datum": 1.1456, "type": "quantitative", "axis": null}}}
    ]}
  ], "spacing": 9, "bounds": "flush"}
 ], "spacing": 0, "bounds": "flush"},
 {"vconcat": [
  {"title": {"text": "BearverDamDrain\u00a0\u00a0\u00a0\u00a0\u00a0\u00a0\u00a0Plan: Plan 28\u00a0\u00a0\u00a02022-07-17", "subtitle": "River = BeaverDamDrain\u00a0\u00a0\u00a0Reach = Main\u00a0\u00a0\u00a0\u00a0\u00a0\u00a0\u00a0RS = 3368\u00a0\u00a0New X-Section"},
   "width": 373, "height": 31, "view": {"stroke": null},
   "data": {"name": "rough"}, "transform": [{"filter": "datum.p == 5"}],
   "layer": [
    {"mark": {"type": "rule", "color": "black"}, "encoding": {"x": {"field": "a", "type": "quantitative", "scale": {"domain": [0, 800], "nice": false, "zero": false}, "axis": null}}},
    {"mark": {"type": "rule", "color": "black"}, "encoding": {"x": {"field": "z", "type": "quantitative", "axis": null}}},
    {"transform": [{"filter": "datum.k != 'C'"}], "mark": {"type": "rule", "color": "black"}, "encoding": {"x": {"field": "a", "type": "quantitative", "axis": null}, "x2": {"field": "z"}, "y": {"datum": 0.58, "type": "quantitative", "scale": {"domain": [0, 1]}, "axis": null}}},
    {"transform": [{"filter": "datum.k != 'C'"}], "mark": {"type": "point", "shape": "M-1,0L1,-0.6M-1,0L1,0.6", "filled": false, "color": "black", "strokeWidth": 1, "size": 100, "opacity": 1, "xOffset": 5}, "encoding": {"x": {"field": "a", "type": "quantitative", "axis": null}, "y": {"datum": 0.58, "type": "quantitative", "axis": null}}},
    {"transform": [{"filter": "datum.k != 'C'"}], "mark": {"type": "point", "shape": "M1,0L-1,-0.6M1,0L-1,0.6", "filled": false, "color": "black", "strokeWidth": 1, "size": 100, "opacity": 1, "xOffset": -5}, "encoding": {"x": {"field": "z", "type": "quantitative", "axis": null}, "y": {"datum": 0.58, "type": "quantitative", "axis": null}}},
    {"transform": [{"fold": ["a", "z"], "as": ["key", "val"]}, {"aggregate": [{"op": "mean", "field": "val", "as": "mid"}], "groupby": ["k", "n"]}],
     "layer": [
      {"transform": [{"filter": "datum.k != 'C'"}], "mark": {"type": "text", "fontSize": 17, "stroke": "white", "strokeWidth": 9, "color": "white"}, "encoding": {"x": {"field": "mid", "type": "quantitative", "axis": null}, "y": {"datum": 0.58, "type": "quantitative", "axis": null}, "text": {"field": "n"}}},
      {"transform": [{"filter": "datum.k != 'C'"}], "mark": {"type": "text", "fontSize": 17, "color": "black"}, "encoding": {"x": {"field": "mid", "type": "quantitative", "axis": null}, "y": {"datum": 0.58, "type": "quantitative", "axis": null}, "text": {"field": "n"}}},
      {"transform": [{"filter": "datum.k == 'C'"}], "mark": {"type": "text", "fontSize": 17, "color": "black", "baseline": "top", "lineBreak": "\n", "lineHeight": 17}, "encoding": {"x": {"field": "mid", "type": "quantitative", "axis": null}, "y": {"datum": 0.19, "type": "quantitative", "axis": null}, "text": {"field": "n"}}}
     ]}
   ]},
  {"hconcat": [
   {"width": 373, "height": 465, "view": {"stroke": "#c0c0c0"},
    "layer": [
     {"data": {"name": "water"}, "transform": [{"filter": "datum.p == 5"}], "mark": {"type": "area", "color": "#00ffff", "opacity": 1},
      "encoding": {
       "x": {"field": "s", "type": "quantitative", "scale": {"domain": [0, 800], "nice": false, "zero": false}, "axis": {"values": [0,50,100,150,200,250,300,350,400,450,500,550,600,650,700,750,800], "tickCount": 200, "title": "Station (m)", "labelExpr": "datum.value % 100 === 0 ? datum.label : ''", "gridDash": {"condition": {"test": "datum.value % 100 === 0", "value": []}, "value": [3, 3]}, "gridColor": {"condition": {"test": "datum.value % 100 === 0", "value": "#c8c8c8"}, "value": "#b4b4b4"}}},
       "y": {"field": "e", "type": "quantitative", "scale": {"domain": [176, 180], "nice": false, "zero": false}, "axis": {"values": [176,176.25,176.5,176.75,177,177.25,177.5,177.75,178,178.25,178.5,178.75,179,179.25,179.5,179.75,180], "tickCount": 200, "title": "Elevation (m)", "labelExpr": "abs(datum.value * 2 - round(datum.value * 2)) < 0.001 ? format(datum.value, '.1f') : ''", "gridDash": {"condition": {"test": "abs(datum.value * 2 - round(datum.value * 2)) < 0.001", "value": []}, "value": [3, 3]}, "gridColor": {"condition": {"test": "abs(datum.value * 2 - round(datum.value * 2)) < 0.001", "value": "#c8c8c8"}, "value": "#b4b4b4"}}},
       "y2": {"field": "w"}, "order": {"value": null}}},
     {"data": {"name": "ws"}, "transform": [{"filter": "datum.p == 5"}], "mark": {"type": "rule", "color": "#3030ff", "strokeWidth": 1}, "encoding": {"x": {"field": "a", "type": "quantitative"}, "x2": {"field": "z"}, "y": {"field": "w", "type": "quantitative"}}},
     {"data": {"name": "ws"}, "transform": [{"filter": "datum.p == 5"}], "mark": {"type": "rule", "color": "#00a000", "strokeWidth": 1, "strokeDash": [3, 3]}, "encoding": {"x": {"field": "a", "type": "quantitative"}, "x2": {"field": "z"}, "y": {"field": "w", "type": "quantitative"}}},
     {"data": {"name": "ground"}, "transform": [{"filter": "datum.p == 5"}], "mark": {"type": "line", "color": "black", "strokeWidth": 1.2}, "encoding": {"x": {"field": "s", "type": "quantitative"}, "y": {"field": "e", "type": "quantitative"}, "order": {"value": null}}},
     {"data": {"name": "ground"}, "transform": [{"filter": "datum.p == 5"}], "mark": {"type": "point", "shape": "square", "filled": true, "color": "black", "size": 42, "opacity": 1}, "encoding": {"x": {"field": "s", "type": "quantitative"}, "y": {"field": "e", "type": "quantitative"}}},
     {"data": {"name": "banks"}, "transform": [{"filter": "datum.p == 5"}], "mark": {"type": "point", "shape": "circle", "filled": true, "color": "#ff0000", "size": 110, "opacity": 1}, "encoding": {"x": {"field": "s", "type": "quantitative"}, "y": {"field": "e", "type": "quantitative"}}},
     {"data": {"name": "arrow"}, "transform": [{"filter": "datum.p == 5"}], "mark": {"type": "line", "color": "#ff0000", "strokeWidth": 2}, "encoding": {"x": {"field": "s", "type": "quantitative"}, "y": {"field": "e", "type": "quantitative"}, "detail": {"field": "g"}, "order": {"value": null}}},
     {"data": {"name": "note"}, "transform": [{"filter": "datum.p == 5"}], "mark": {"type": "text", "align": "left", "baseline": "top", "fontSize": 24, "fontWeight": "bold", "color": "#ff0000", "lineBreak": "\n", "lineHeight": 26}, "encoding": {"x": {"field": "s", "type": "quantitative"}, "y": {"field": "e", "type": "quantitative"}, "text": {"field": "t"}}}
    ]},
   {"width": 103, "height": 173, "view": {"stroke": "black", "strokeWidth": 1.2}, "data": {"name": "legend"},
    "encoding": {"y": {"field": "item", "type": "nominal", "scale": {"type": "point", "domain": ["EG PF 1", "WS PF 1", "Ground", "Bank Sta"], "padding": 0.995, "align": 0.71}, "axis": null}},
    "layer": [
     {"mark": {"type": "text", "fontSize": 17, "color": "black"}, "encoding": {"text": {"field": "item"}, "x": {"datum": 0.5, "type": "quantitative", "scale": {"domain": [0, 1]}, "axis": null}}},
     {"transform": [{"filter": "datum.item == 'EG PF 1'"}], "mark": {"type": "text", "text": "Legend", "fontSize": 17, "fontWeight": "bold", "color": "black", "dy": -39}, "encoding": {"x": {"datum": 0.5, "type": "quantitative", "axis": null}}},
     {"transform": [{"filter": "datum.item == 'EG PF 1'"}], "mark": {"type": "rule", "color": "black", "strokeWidth": 1.2, "yOffset": -25}, "encoding": {}},
     {"transform": [{"filter": "datum.item == 'EG PF 1'"}], "mark": {"type": "rule", "color": "#00a000", "strokeDash": [3, 2], "yOffset": -15}, "encoding": {"x": {"datum": 0.09, "type": "quantitative", "axis": null}, "x2": {"datum": 0.91}}},
     {"transform": [{"filter": "datum.item == 'WS PF 1'"}], "mark": {"type": "rule", "color": "#3030ff", "strokeWidth": 1.5, "yOffset": -15}, "encoding": {"x": {"datum": 0.09, "type": "quantitative", "axis": null}, "x2": {"datum": 0.91}}},
     {"transform": [{"filter": "datum.item == 'Ground'"}], "mark": {"type": "rule", "color": "black", "yOffset": -14}, "encoding": {"x": {"datum": 0.09, "type": "quantitative", "axis": null}, "x2": {"datum": 0.91}}},
     {"transform": [{"filter": "datum.item == 'Ground'"}], "mark": {"type": "point", "shape": "square", "filled": true, "color": "black", "size": 42, "opacity": 1, "yOffset": -14}, "encoding": {"x": {"datum": 0.5, "type": "quantitative", "axis": null}}},
     {"transform": [{"filter": "datum.item == 'Bank Sta'"}], "mark": {"type": "point", "shape": "circle", "filled": true, "color": "#ff0000", "size": 110, "opacity": 1, "yOffset": -15}, "encoding": {"x": {"datum": 0.5, "type": "quantitative", "axis": null}}},
     {"transform": [{"filter": "datum.item == 'EG PF 1'"}], "mark": {"type": "point", "opacity": 0, "size": 1}, "encoding": {"x": {"datum": 1.1456, "type": "quantitative", "axis": null}}}
    ]}
  ], "spacing": 9, "bounds": "flush"}
 ], "spacing": 0, "bounds": "flush"},
 {"vconcat": [
  {"title": {"text": "BearverDamDrain\u00a0\u00a0\u00a0\u00a0\u00a0\u00a0\u00a0Plan: Plan 28\u00a0\u00a0\u00a02022-07-17", "subtitle": "River = BeaverDamDrain\u00a0\u00a0\u00a0Reach = Main\u00a0\u00a0\u00a0\u00a0\u00a0\u00a0RS = 3344.535", "subtitleFontSize": 17, "subtitlePadding": 6},
   "width": 373, "height": 31, "view": {"stroke": null},
   "data": {"name": "rough"}, "transform": [{"filter": "datum.p == 6"}],
   "layer": [
    {"mark": {"type": "rule", "color": "black"}, "encoding": {"x": {"field": "a", "type": "quantitative", "scale": {"domain": [0, 700], "nice": false, "zero": false}, "axis": null}}},
    {"mark": {"type": "rule", "color": "black"}, "encoding": {"x": {"field": "z", "type": "quantitative", "axis": null}}},
    {"transform": [{"filter": "datum.k != 'C'"}], "mark": {"type": "rule", "color": "black"}, "encoding": {"x": {"field": "a", "type": "quantitative", "axis": null}, "x2": {"field": "z"}, "y": {"datum": 0.58, "type": "quantitative", "scale": {"domain": [0, 1]}, "axis": null}}},
    {"transform": [{"filter": "datum.k != 'C'"}], "mark": {"type": "point", "shape": "M-1,0L1,-0.6M-1,0L1,0.6", "filled": false, "color": "black", "strokeWidth": 1, "size": 100, "opacity": 1, "xOffset": 5}, "encoding": {"x": {"field": "a", "type": "quantitative", "axis": null}, "y": {"datum": 0.58, "type": "quantitative", "axis": null}}},
    {"transform": [{"filter": "datum.k != 'C'"}], "mark": {"type": "point", "shape": "M1,0L-1,-0.6M1,0L-1,0.6", "filled": false, "color": "black", "strokeWidth": 1, "size": 100, "opacity": 1, "xOffset": -5}, "encoding": {"x": {"field": "z", "type": "quantitative", "axis": null}, "y": {"datum": 0.58, "type": "quantitative", "axis": null}}},
    {"transform": [{"fold": ["a", "z"], "as": ["key", "val"]}, {"aggregate": [{"op": "mean", "field": "val", "as": "mid"}], "groupby": ["k", "n"]}],
     "layer": [
      {"transform": [{"filter": "datum.k != 'C'"}], "mark": {"type": "text", "fontSize": 17, "stroke": "white", "strokeWidth": 9, "color": "white"}, "encoding": {"x": {"field": "mid", "type": "quantitative", "axis": null}, "y": {"datum": 0.58, "type": "quantitative", "axis": null}, "text": {"field": "n"}}},
      {"transform": [{"filter": "datum.k != 'C'"}], "mark": {"type": "text", "fontSize": 17, "color": "black"}, "encoding": {"x": {"field": "mid", "type": "quantitative", "axis": null}, "y": {"datum": 0.58, "type": "quantitative", "axis": null}, "text": {"field": "n"}}},
      {"transform": [{"filter": "datum.k == 'C'"}], "mark": {"type": "text", "fontSize": 17, "color": "black", "baseline": "top", "lineBreak": "\n", "lineHeight": 17}, "encoding": {"x": {"field": "mid", "type": "quantitative", "axis": null}, "y": {"datum": 0.19, "type": "quantitative", "axis": null}, "text": {"field": "n"}}}
     ]}
   ]},
  {"hconcat": [
   {"width": 373, "height": 465, "view": {"stroke": "#c0c0c0"},
    "layer": [
     {"data": {"name": "water"}, "transform": [{"filter": "datum.p == 6"}], "mark": {"type": "area", "color": "#00ffff", "opacity": 1},
      "encoding": {
       "x": {"field": "s", "type": "quantitative", "scale": {"domain": [0, 700], "nice": false, "zero": false}, "axis": {"values": [0,20,40,60,80,100,120,140,160,180,200,220,240,260,280,300,320,340,360,380,400,420,440,460,480,500,520,540,560,580,600,620,640,660,680,700], "tickCount": 200, "title": "Station (m)", "labelExpr": "datum.value % 100 === 0 ? datum.label : ''", "gridDash": {"condition": {"test": "datum.value % 100 === 0", "value": []}, "value": [3, 3]}, "gridColor": {"condition": {"test": "datum.value % 100 === 0", "value": "#c8c8c8"}, "value": "#b4b4b4"}}},
       "y": {"field": "e", "type": "quantitative", "scale": {"domain": [176.5, 180], "nice": false, "zero": false}, "axis": {"values": [176.5,176.6,176.7,176.8,176.9,177,177.1,177.2,177.3,177.4,177.5,177.6,177.7,177.8,177.9,178,178.1,178.2,178.3,178.4,178.5,178.6,178.7,178.8,178.9,179,179.1,179.2,179.3,179.4,179.5,179.6,179.7,179.8,179.9,180], "tickCount": 200, "title": "Elevation (m)", "labelExpr": "abs(datum.value * 2 - round(datum.value * 2)) < 0.001 ? format(datum.value, '.1f') : ''", "gridDash": {"condition": {"test": "abs(datum.value * 2 - round(datum.value * 2)) < 0.001", "value": []}, "value": [3, 3]}, "gridColor": {"condition": {"test": "abs(datum.value * 2 - round(datum.value * 2)) < 0.001", "value": "#c8c8c8"}, "value": "#b4b4b4"}}},
       "y2": {"field": "w"}, "order": {"value": null}}},
     {"data": {"name": "ws"}, "transform": [{"filter": "datum.p == 6"}], "mark": {"type": "rule", "color": "#3030ff", "strokeWidth": 1}, "encoding": {"x": {"field": "a", "type": "quantitative"}, "x2": {"field": "z"}, "y": {"field": "w", "type": "quantitative"}}},
     {"data": {"name": "ws"}, "transform": [{"filter": "datum.p == 6"}], "mark": {"type": "rule", "color": "#00a000", "strokeWidth": 1, "strokeDash": [3, 3]}, "encoding": {"x": {"field": "a", "type": "quantitative"}, "x2": {"field": "z"}, "y": {"field": "w", "type": "quantitative"}}},
     {"data": {"name": "ground"}, "transform": [{"filter": "datum.p == 6"}], "mark": {"type": "line", "color": "black", "strokeWidth": 1.2}, "encoding": {"x": {"field": "s", "type": "quantitative"}, "y": {"field": "e", "type": "quantitative"}, "order": {"value": null}}},
     {"data": {"name": "ground"}, "transform": [{"filter": "datum.p == 6"}], "mark": {"type": "point", "shape": "square", "filled": true, "color": "black", "size": 42, "opacity": 1}, "encoding": {"x": {"field": "s", "type": "quantitative"}, "y": {"field": "e", "type": "quantitative"}}},
     {"data": {"name": "banks"}, "transform": [{"filter": "datum.p == 6"}], "mark": {"type": "point", "shape": "circle", "filled": true, "color": "#ff0000", "size": 110, "opacity": 1}, "encoding": {"x": {"field": "s", "type": "quantitative"}, "y": {"field": "e", "type": "quantitative"}}},
     {"data": {"name": "arrow"}, "transform": [{"filter": "datum.p == 6"}], "mark": {"type": "line", "color": "#ff0000", "strokeWidth": 2}, "encoding": {"x": {"field": "s", "type": "quantitative"}, "y": {"field": "e", "type": "quantitative"}, "detail": {"field": "g"}, "order": {"value": null}}},
     {"data": {"name": "note"}, "transform": [{"filter": "datum.p == 6"}], "mark": {"type": "text", "align": "left", "baseline": "top", "fontSize": 24, "fontWeight": "bold", "color": "#ff0000", "lineBreak": "\n", "lineHeight": 26}, "encoding": {"x": {"field": "s", "type": "quantitative"}, "y": {"field": "e", "type": "quantitative"}, "text": {"field": "t"}}}
    ]},
   {"width": 103, "height": 173, "view": {"stroke": "black", "strokeWidth": 1.2}, "data": {"name": "legend"},
    "encoding": {"y": {"field": "item", "type": "nominal", "scale": {"type": "point", "domain": ["EG PF 1", "WS PF 1", "Ground", "Bank Sta"], "padding": 0.995, "align": 0.71}, "axis": null}},
    "layer": [
     {"mark": {"type": "text", "fontSize": 17, "color": "black"}, "encoding": {"text": {"field": "item"}, "x": {"datum": 0.5, "type": "quantitative", "scale": {"domain": [0, 1]}, "axis": null}}},
     {"transform": [{"filter": "datum.item == 'EG PF 1'"}], "mark": {"type": "text", "text": "Legend", "fontSize": 17, "fontWeight": "bold", "color": "black", "dy": -39}, "encoding": {"x": {"datum": 0.5, "type": "quantitative", "axis": null}}},
     {"transform": [{"filter": "datum.item == 'EG PF 1'"}], "mark": {"type": "rule", "color": "black", "strokeWidth": 1.2, "yOffset": -25}, "encoding": {}},
     {"transform": [{"filter": "datum.item == 'EG PF 1'"}], "mark": {"type": "rule", "color": "#00a000", "strokeDash": [3, 2], "yOffset": -15}, "encoding": {"x": {"datum": 0.09, "type": "quantitative", "axis": null}, "x2": {"datum": 0.91}}},
     {"transform": [{"filter": "datum.item == 'WS PF 1'"}], "mark": {"type": "rule", "color": "#3030ff", "strokeWidth": 1.5, "yOffset": -15}, "encoding": {"x": {"datum": 0.09, "type": "quantitative", "axis": null}, "x2": {"datum": 0.91}}},
     {"transform": [{"filter": "datum.item == 'Ground'"}], "mark": {"type": "rule", "color": "black", "yOffset": -14}, "encoding": {"x": {"datum": 0.09, "type": "quantitative", "axis": null}, "x2": {"datum": 0.91}}},
     {"transform": [{"filter": "datum.item == 'Ground'"}], "mark": {"type": "point", "shape": "square", "filled": true, "color": "black", "size": 42, "opacity": 1, "yOffset": -14}, "encoding": {"x": {"datum": 0.5, "type": "quantitative", "axis": null}}},
     {"transform": [{"filter": "datum.item == 'Bank Sta'"}], "mark": {"type": "point", "shape": "circle", "filled": true, "color": "#ff0000", "size": 110, "opacity": 1, "yOffset": -15}, "encoding": {"x": {"datum": 0.5, "type": "quantitative", "axis": null}}},
     {"transform": [{"filter": "datum.item == 'EG PF 1'"}], "mark": {"type": "point", "opacity": 0, "size": 1}, "encoding": {"x": {"datum": 1.1456, "type": "quantitative", "axis": null}}}
    ]}
  ], "spacing": 9, "bounds": "flush"}
 ], "spacing": 0, "bounds": "flush"}
]
}
